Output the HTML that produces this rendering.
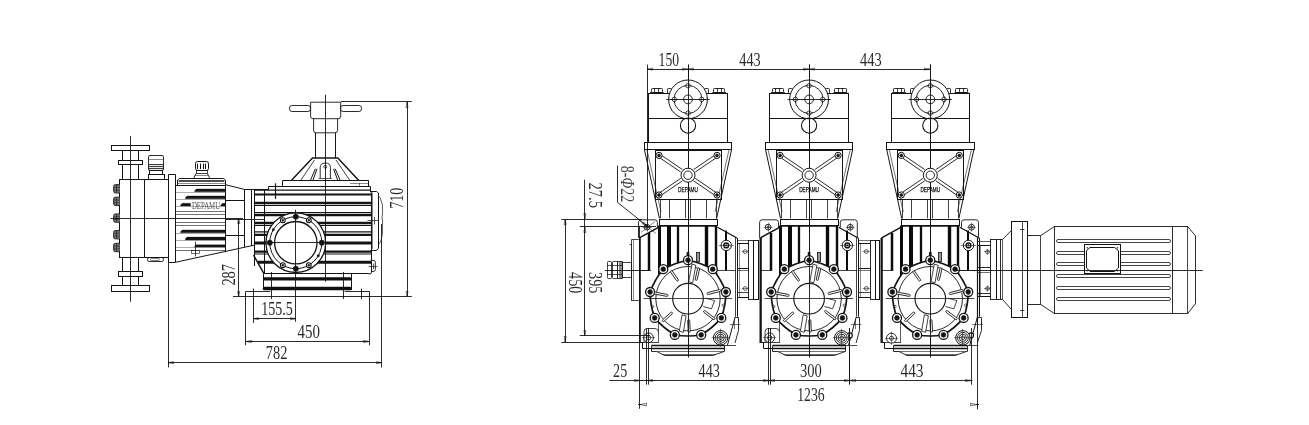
<!DOCTYPE html>
<html><head><meta charset="utf-8"><title>DEPAMU pump dimensions</title>
<style>html,body{margin:0;padding:0;background:#fff}svg{display:block;filter:grayscale(1)}</style></head>
<body><svg width="1309" height="425" viewBox="0 0 1309 425">
<rect x="0" y="0" width="1309" height="425" fill="#fff"/>
<line x1="130.50" y1="135.90" x2="130.50" y2="301.80" stroke="#141414" stroke-width="0.9"/>
<rect x="111.50" y="145.50" width="38.00" height="5.00" rx="0" fill="none" stroke="#141414" stroke-width="1.0"/>
<rect x="118.50" y="160.50" width="24.00" height="4.00" rx="0" fill="none" stroke="#141414" stroke-width="1.0"/>
<line x1="122.50" y1="150.50" x2="122.50" y2="160.10" stroke="#141414" stroke-width="1.0"/>
<line x1="138.50" y1="150.50" x2="138.50" y2="160.10" stroke="#141414" stroke-width="1.0"/>
<line x1="122.50" y1="164.80" x2="122.50" y2="179.40" stroke="#141414" stroke-width="1.0"/>
<line x1="138.50" y1="164.80" x2="138.50" y2="179.40" stroke="#141414" stroke-width="1.0"/>
<rect x="111.50" y="285.50" width="38.00" height="6.00" rx="0" fill="none" stroke="#141414" stroke-width="1.0"/>
<rect x="118.50" y="271.50" width="24.00" height="5.00" rx="0" fill="none" stroke="#141414" stroke-width="1.0"/>
<line x1="122.50" y1="285.90" x2="122.50" y2="276.30" stroke="#141414" stroke-width="1.0"/>
<line x1="138.50" y1="285.90" x2="138.50" y2="276.30" stroke="#141414" stroke-width="1.0"/>
<line x1="122.50" y1="271.60" x2="122.50" y2="257.00" stroke="#141414" stroke-width="1.0"/>
<line x1="138.50" y1="271.60" x2="138.50" y2="257.00" stroke="#141414" stroke-width="1.0"/>
<rect x="119.50" y="179.50" width="49.00" height="78.00" rx="0" fill="none" stroke="#141414" stroke-width="1.0"/>
<line x1="144.50" y1="179.40" x2="144.50" y2="257.00" stroke="#141414" stroke-width="1.0"/>
<path d="M119.4 184.60 L115.4 184.60 Q113.6 184.60 113.6 186.40 L113.6 191.20 Q113.6 193.00 115.4 193.00 L119.4 193.00" fill="#bbb" stroke="#141414" stroke-width="0.9" />
<line x1="115.00" y1="185.00" x2="115.00" y2="192.60" stroke="#141414" stroke-width="0.8"/>
<line x1="116.50" y1="185.00" x2="116.50" y2="192.60" stroke="#141414" stroke-width="0.8"/>
<line x1="118.00" y1="185.00" x2="118.00" y2="192.60" stroke="#141414" stroke-width="0.8"/>
<line x1="114.00" y1="187.40" x2="119.40" y2="187.40" stroke="#141414" stroke-width="0.5"/>
<line x1="114.00" y1="190.20" x2="119.40" y2="190.20" stroke="#141414" stroke-width="0.5"/>
<path d="M119.4 197.20 L115.4 197.20 Q113.6 197.20 113.6 199.00 L113.6 203.80 Q113.6 205.60 115.4 205.60 L119.4 205.60" fill="#bbb" stroke="#141414" stroke-width="0.9" />
<line x1="115.00" y1="197.60" x2="115.00" y2="205.20" stroke="#141414" stroke-width="0.8"/>
<line x1="116.50" y1="197.60" x2="116.50" y2="205.20" stroke="#141414" stroke-width="0.8"/>
<line x1="118.00" y1="197.60" x2="118.00" y2="205.20" stroke="#141414" stroke-width="0.8"/>
<line x1="114.00" y1="200.00" x2="119.40" y2="200.00" stroke="#141414" stroke-width="0.5"/>
<line x1="114.00" y1="202.80" x2="119.40" y2="202.80" stroke="#141414" stroke-width="0.5"/>
<path d="M119.4 213.90 L115.4 213.90 Q113.6 213.90 113.6 215.70 L113.6 220.50 Q113.6 222.30 115.4 222.30 L119.4 222.30" fill="#bbb" stroke="#141414" stroke-width="0.9" />
<line x1="115.00" y1="214.30" x2="115.00" y2="221.90" stroke="#141414" stroke-width="0.8"/>
<line x1="116.50" y1="214.30" x2="116.50" y2="221.90" stroke="#141414" stroke-width="0.8"/>
<line x1="118.00" y1="214.30" x2="118.00" y2="221.90" stroke="#141414" stroke-width="0.8"/>
<line x1="114.00" y1="216.70" x2="119.40" y2="216.70" stroke="#141414" stroke-width="0.5"/>
<line x1="114.00" y1="219.50" x2="119.40" y2="219.50" stroke="#141414" stroke-width="0.5"/>
<path d="M119.4 230.50 L115.4 230.50 Q113.6 230.50 113.6 232.30 L113.6 237.10 Q113.6 238.90 115.4 238.90 L119.4 238.90" fill="#bbb" stroke="#141414" stroke-width="0.9" />
<line x1="115.00" y1="230.90" x2="115.00" y2="238.50" stroke="#141414" stroke-width="0.8"/>
<line x1="116.50" y1="230.90" x2="116.50" y2="238.50" stroke="#141414" stroke-width="0.8"/>
<line x1="118.00" y1="230.90" x2="118.00" y2="238.50" stroke="#141414" stroke-width="0.8"/>
<line x1="114.00" y1="233.30" x2="119.40" y2="233.30" stroke="#141414" stroke-width="0.5"/>
<line x1="114.00" y1="236.10" x2="119.40" y2="236.10" stroke="#141414" stroke-width="0.5"/>
<path d="M119.4 243.30 L115.4 243.30 Q113.6 243.30 113.6 245.10 L113.6 249.90 Q113.6 251.70 115.4 251.70 L119.4 251.70" fill="#bbb" stroke="#141414" stroke-width="0.9" />
<line x1="115.00" y1="243.70" x2="115.00" y2="251.30" stroke="#141414" stroke-width="0.8"/>
<line x1="116.50" y1="243.70" x2="116.50" y2="251.30" stroke="#141414" stroke-width="0.8"/>
<line x1="118.00" y1="243.70" x2="118.00" y2="251.30" stroke="#141414" stroke-width="0.8"/>
<line x1="114.00" y1="246.10" x2="119.40" y2="246.10" stroke="#141414" stroke-width="0.5"/>
<line x1="114.00" y1="248.90" x2="119.40" y2="248.90" stroke="#141414" stroke-width="0.5"/>
<line x1="110.60" y1="218.50" x2="243.00" y2="218.50" stroke="#141414" stroke-width="0.9"/>
<rect x="148.50" y="155.50" width="15.00" height="15.00" rx="1.5" fill="none" stroke="#141414" stroke-width="0.9"/>
<line x1="148.40" y1="159.50" x2="163.80" y2="159.50" stroke="#141414" stroke-width="0.5"/>
<line x1="148.60" y1="164.60" x2="163.60" y2="164.60" stroke="#141414" stroke-width="0.9"/>
<line x1="148.60" y1="166.60" x2="163.60" y2="166.60" stroke="#141414" stroke-width="0.9"/>
<line x1="148.60" y1="168.60" x2="163.60" y2="168.60" stroke="#141414" stroke-width="0.9"/>
<rect x="149.50" y="170.50" width="13.00" height="4.00" rx="0" fill="none" stroke="#141414" stroke-width="1.0"/>
<rect x="148.50" y="174.50" width="16.00" height="5.00" rx="0" fill="none" stroke="#141414" stroke-width="1.0"/>
<rect x="147.50" y="257.50" width="16.00" height="4.00" rx="1.8" fill="none" stroke="#141414" stroke-width="0.9"/>
<rect x="150.50" y="258.50" width="9.00" height="2.00" rx="0.8" fill="none" stroke="#141414" stroke-width="0.5"/>
<path d="M168.50 257.00 L168.50 262.50 L175.50 262.50 L175.50 174.50 L168.50 174.50 L168.50 179.40" fill="none" stroke="#141414" stroke-width="1.0" stroke-linejoin="round"/>
<line x1="168.50" y1="262.20" x2="168.50" y2="367.40" stroke="#141414" stroke-width="0.9"/>
<path d="M175.90 185.50 L177.50 185.50 L177.50 180.20 L179.20 178.50 L223.60 178.50 L225.50 180.20 L225.50 252.30" fill="none" stroke="#141414" stroke-width="1.0" stroke-linejoin="round"/>
<line x1="177.60" y1="185.50" x2="225.20" y2="185.50" stroke="#141414" stroke-width="1.0"/>
<line x1="178.60" y1="181.00" x2="224.40" y2="181.00" stroke="#141414" stroke-width="1.5"/>
<line x1="178.00" y1="183.50" x2="225.00" y2="183.50" stroke="#141414" stroke-width="0.5"/>
<rect x="195.50" y="161.50" width="13.00" height="9.00" rx="2" fill="none" stroke="#141414" stroke-width="1.0"/>
<line x1="197.50" y1="163.60" x2="197.50" y2="169.00" stroke="#141414" stroke-width="1.0"/>
<line x1="200.50" y1="163.60" x2="200.50" y2="169.00" stroke="#141414" stroke-width="1.0"/>
<line x1="203.50" y1="163.60" x2="203.50" y2="169.00" stroke="#141414" stroke-width="1.0"/>
<line x1="205.50" y1="163.60" x2="205.50" y2="169.00" stroke="#141414" stroke-width="1.0"/>
<rect x="196.50" y="170.50" width="11.00" height="3.00" rx="0" fill="none" stroke="#141414" stroke-width="0.8"/>
<path d="M196.00 173.50 L193.60 178.40" fill="none" stroke="#141414" stroke-width="0.9" stroke-linejoin="round"/>
<path d="M207.40 173.50 L209.80 178.40" fill="none" stroke="#141414" stroke-width="0.9" stroke-linejoin="round"/>
<line x1="195.00" y1="175.50" x2="208.40" y2="175.50" stroke="#141414" stroke-width="0.5"/>
<path d="M196.3 188.90 L225.2 188.90 L225.2 191.70 L195.3 191.70 Q193.3 191.70 196.3 188.90 Z" fill="#141414" stroke="#141414" stroke-width="0.3" />
<path d="M187.0 195.90 L225.2 195.90 L225.2 198.70 L186.0 198.70 Q184.0 198.70 187.0 195.90 Z" fill="#141414" stroke="#141414" stroke-width="0.3" />
<path d="M182.2 203.20 L190.5 203.20 L190.5 206.00 L181.2 206.00 Q179.2 206.00 182.2 203.20 Z" fill="#141414" stroke="#141414" stroke-width="0.3" />
<path d="M222.5 203.20 L225.2 203.20 L225.2 206.00 L221.5 206.00 Q219.5 206.00 222.5 203.20 Z" fill="#141414" stroke="#141414" stroke-width="0.3" />
<path d="M196.3 244.70 L225.2 244.70 L225.2 247.10 L195.3 247.10 Q193.3 247.10 196.3 244.70 Z" fill="#141414" stroke="#141414" stroke-width="0.3" />
<path d="M187.0 237.10 L225.2 237.10 L225.2 239.90 L186.0 239.90 Q184.0 239.90 187.0 237.10 Z" fill="#141414" stroke="#141414" stroke-width="0.3" />
<path d="M182.2 229.90 L225.2 229.90 L225.2 232.70 L181.2 232.70 Q179.2 232.70 182.2 229.90 Z" fill="#141414" stroke="#141414" stroke-width="0.3" />
<line x1="175.90" y1="211.50" x2="225.20" y2="211.50" stroke="#141414" stroke-width="0.6"/>
<line x1="175.90" y1="214.50" x2="225.20" y2="214.50" stroke="#141414" stroke-width="0.6"/>
<line x1="175.90" y1="222.50" x2="225.20" y2="222.50" stroke="#141414" stroke-width="0.6"/>
<line x1="175.90" y1="225.50" x2="225.20" y2="225.50" stroke="#141414" stroke-width="0.6"/>
<line x1="175.90" y1="250.50" x2="225.20" y2="250.50" stroke="#141414" stroke-width="0.6"/>
<line x1="176.00" y1="192.50" x2="225.20" y2="192.50" stroke="#141414" stroke-width="0.35"/>
<line x1="176.00" y1="199.50" x2="225.20" y2="199.50" stroke="#141414" stroke-width="0.35"/>
<line x1="176.00" y1="206.50" x2="225.20" y2="206.50" stroke="#141414" stroke-width="0.35"/>
<line x1="176.00" y1="233.50" x2="225.20" y2="233.50" stroke="#141414" stroke-width="0.35"/>
<line x1="176.00" y1="240.50" x2="225.20" y2="240.50" stroke="#141414" stroke-width="0.35"/>
<line x1="176.00" y1="247.50" x2="225.20" y2="247.50" stroke="#141414" stroke-width="0.35"/>
<text x="191.90" y="208.90" font-size="9.9" font-family='"Liberation Serif", serif' fill="#555" text-anchor="start" textLength="28.20" lengthAdjust="spacingAndGlyphs">DEPAMU</text>
<line x1="195.50" y1="241.70" x2="195.50" y2="256.50" stroke="#141414" stroke-width="0.8"/>
<rect x="191.50" y="250.50" width="8.00" height="3.00" rx="0" fill="none" stroke="#141414" stroke-width="0.6"/>
<path d="M225.20 184.60 L244.80 189.50 L254.00 189.50" fill="none" stroke="#141414" stroke-width="1.0" stroke-linejoin="round"/>
<line x1="244.50" y1="189.30" x2="244.50" y2="247.00" stroke="#141414" stroke-width="1.0"/>
<line x1="225.20" y1="200.50" x2="244.80" y2="200.50" stroke="#141414" stroke-width="1.0"/>
<line x1="225.20" y1="235.50" x2="244.80" y2="235.50" stroke="#141414" stroke-width="1.0"/>
<line x1="175.90" y1="262.20" x2="254.00" y2="245.20" stroke="#141414" stroke-width="1.0"/>
<line x1="225.20" y1="219.50" x2="264.00" y2="219.50" stroke="#141414" stroke-width="0.9"/>
<line x1="238.50" y1="218.20" x2="238.50" y2="296.60" stroke="#141414" stroke-width="0.9"/>
<path d="M238.70 218.20 L239.70 223.50 L237.70 223.50 Z" fill="none" stroke="#141414" stroke-width="0.6" stroke-linejoin="round"/>
<path d="M238.70 296.60 L237.70 291.50 L239.70 291.50 Z" fill="none" stroke="#141414" stroke-width="0.6" stroke-linejoin="round"/>
<text x="235.00" y="285.60" font-size="18.5" font-family='"Liberation Serif", serif' fill="#2a2a2a" text-anchor="start" textLength="21.60" lengthAdjust="spacingAndGlyphs" transform="rotate(-90 235.00 285.60)">287</text>
<line x1="251.50" y1="189.30" x2="251.50" y2="246.00" stroke="#141414" stroke-width="1.0"/>
<line x1="254.50" y1="189.30" x2="254.50" y2="266.00" stroke="#141414" stroke-width="1.0"/>
<line x1="254.00" y1="190.20" x2="371.00" y2="190.20" stroke="#141414" stroke-width="1.2"/>
<line x1="254.00" y1="194.50" x2="371.00" y2="194.50" stroke="#141414" stroke-width="2.2"/>
<line x1="254.00" y1="202.90" x2="371.00" y2="202.90" stroke="#141414" stroke-width="2.2"/>
<line x1="254.00" y1="205.30" x2="371.00" y2="205.30" stroke="#141414" stroke-width="1.2"/>
<line x1="254.00" y1="212.60" x2="371.00" y2="212.60" stroke="#141414" stroke-width="1.2"/>
<line x1="254.00" y1="215.20" x2="371.00" y2="215.20" stroke="#141414" stroke-width="2.2"/>
<line x1="254.00" y1="222.90" x2="371.00" y2="222.90" stroke="#141414" stroke-width="2.2"/>
<line x1="254.00" y1="225.30" x2="371.00" y2="225.30" stroke="#141414" stroke-width="1.2"/>
<line x1="254.00" y1="231.80" x2="371.00" y2="231.80" stroke="#141414" stroke-width="1.2"/>
<line x1="254.00" y1="234.80" x2="371.00" y2="234.80" stroke="#141414" stroke-width="2.2"/>
<line x1="254.00" y1="251.60" x2="371.00" y2="251.60" stroke="#141414" stroke-width="2.2"/>
<line x1="254.00" y1="254.00" x2="371.00" y2="254.00" stroke="#141414" stroke-width="1.2"/>
<line x1="254.00" y1="243.00" x2="371.00" y2="243.00" stroke="#141414" stroke-width="3.0"/>
<line x1="258.00" y1="262.20" x2="371.00" y2="262.20" stroke="#141414" stroke-width="3.0"/>
<line x1="264.50" y1="190.30" x2="264.50" y2="273.80" stroke="#141414" stroke-width="1.0"/>
<line x1="275.50" y1="183.30" x2="275.50" y2="198.90" stroke="#141414" stroke-width="1.2"/>
<circle cx="295.80" cy="242.70" r="29.80" fill="#fff" stroke="#141414" stroke-width="1.3"/>
<circle cx="295.80" cy="242.70" r="26.00" fill="none" stroke="#141414" stroke-width="1.0"/>
<circle cx="295.80" cy="242.70" r="21.20" fill="none" stroke="#141414" stroke-width="1.3"/>
<circle cx="321.80" cy="242.70" r="2.60" fill="#141414" stroke="#141414" stroke-width="0.6"/>
<circle cx="295.80" cy="216.70" r="2.60" fill="#141414" stroke="#141414" stroke-width="0.6"/>
<circle cx="269.80" cy="242.70" r="2.60" fill="#141414" stroke="#141414" stroke-width="0.6"/>
<circle cx="295.80" cy="268.70" r="2.60" fill="#141414" stroke="#141414" stroke-width="0.6"/>
<circle cx="308.80" cy="220.18" r="2.40" fill="#fff" stroke="#141414" stroke-width="1.1"/>
<circle cx="308.80" cy="220.18" r="1.00" fill="#141414" stroke="#141414" stroke-width="0.5"/>
<circle cx="282.80" cy="220.18" r="2.40" fill="#fff" stroke="#141414" stroke-width="1.1"/>
<circle cx="282.80" cy="220.18" r="1.00" fill="#141414" stroke="#141414" stroke-width="0.5"/>
<circle cx="282.80" cy="265.22" r="2.40" fill="#fff" stroke="#141414" stroke-width="1.1"/>
<circle cx="282.80" cy="265.22" r="1.00" fill="#141414" stroke="#141414" stroke-width="0.5"/>
<circle cx="308.80" cy="265.22" r="2.40" fill="#fff" stroke="#141414" stroke-width="1.1"/>
<circle cx="308.80" cy="265.22" r="1.00" fill="#141414" stroke="#141414" stroke-width="0.5"/>
<circle cx="273.28" cy="229.70" r="1.20" fill="#141414" stroke="#141414" stroke-width="0.4"/>
<circle cx="318.32" cy="255.70" r="1.20" fill="#141414" stroke="#141414" stroke-width="0.4"/>
<line x1="295.50" y1="209.70" x2="295.50" y2="321.80" stroke="#141414" stroke-width="0.9"/>
<line x1="266.60" y1="242.50" x2="327.00" y2="242.50" stroke="#141414" stroke-width="0.9"/>
<line x1="325.50" y1="94.70" x2="325.50" y2="281.80" stroke="#141414" stroke-width="0.9"/>
<line x1="253.50" y1="255.00" x2="264.10" y2="273.80" stroke="#141414" stroke-width="1.5"/>
<line x1="264.10" y1="273.50" x2="369.50" y2="273.50" stroke="#141414" stroke-width="1.0"/>
<path d="M369.5 274.3 Q371.4 274.3 371.4 272.4" fill="none" stroke="#141414" stroke-width="1.0" />
<line x1="264.5" y1="278.9" x2="350.2" y2="278.9" stroke="#111" stroke-width="3.2" stroke-linecap="round"/>
<line x1="264.5" y1="288.5" x2="350.2" y2="288.5" stroke="#111" stroke-width="3.4" stroke-linecap="round"/>
<line x1="263.50" y1="273.80" x2="263.50" y2="290.00" stroke="#141414" stroke-width="1.0"/>
<line x1="351.50" y1="273.80" x2="351.50" y2="290.00" stroke="#141414" stroke-width="1.0"/>
<line x1="271.50" y1="272.00" x2="271.50" y2="299.00" stroke="#141414" stroke-width="0.9"/>
<line x1="343.50" y1="272.00" x2="343.50" y2="299.00" stroke="#141414" stroke-width="0.9"/>
<line x1="361.50" y1="288.50" x2="361.50" y2="299.00" stroke="#141414" stroke-width="0.9"/>
<path d="M245.50 345.30 L245.50 291.50 L270.00 291.50" fill="none" stroke="#141414" stroke-width="0.9" stroke-linejoin="round"/>
<path d="M344.70 291.50 L369.50 291.50 L369.50 345.30" fill="none" stroke="#141414" stroke-width="0.9" stroke-linejoin="round"/>
<line x1="233.00" y1="296.50" x2="411.80" y2="296.50" stroke="#141414" stroke-width="0.9"/>
<line x1="253.50" y1="288.50" x2="253.50" y2="322.90" stroke="#141414" stroke-width="0.9"/>
<line x1="253.40" y1="318.50" x2="295.80" y2="318.50" stroke="#141414" stroke-width="0.9"/>
<path d="M253.40 318.70 L258.50 317.70 L258.50 319.70 Z" fill="none" stroke="#141414" stroke-width="0.6" stroke-linejoin="round"/>
<path d="M295.80 318.70 L290.50 319.70 L290.50 317.70 Z" fill="none" stroke="#141414" stroke-width="0.6" stroke-linejoin="round"/>
<text x="261.20" y="314.70" font-size="18.5" font-family='"Liberation Serif", serif' fill="#2a2a2a" text-anchor="start" textLength="31.70" lengthAdjust="spacingAndGlyphs">155.5</text>
<line x1="245.60" y1="341.50" x2="369.20" y2="341.50" stroke="#141414" stroke-width="0.9"/>
<path d="M245.60 341.50 L251.50 340.50 L251.50 342.50 Z" fill="none" stroke="#141414" stroke-width="0.6" stroke-linejoin="round"/>
<path d="M369.20 341.50 L363.50 342.50 L363.50 340.50 Z" fill="none" stroke="#141414" stroke-width="0.6" stroke-linejoin="round"/>
<text x="297.60" y="337.50" font-size="18.5" font-family='"Liberation Serif", serif' fill="#2a2a2a" text-anchor="start" textLength="22.40" lengthAdjust="spacingAndGlyphs">450</text>
<line x1="168.20" y1="362.50" x2="381.70" y2="362.50" stroke="#141414" stroke-width="0.9"/>
<path d="M168.20 362.70 L173.50 361.70 L173.50 363.70 Z" fill="none" stroke="#141414" stroke-width="0.6" stroke-linejoin="round"/>
<path d="M381.70 362.70 L376.50 363.70 L376.50 361.70 Z" fill="none" stroke="#141414" stroke-width="0.6" stroke-linejoin="round"/>
<text x="265.80" y="359.30" font-size="18.5" font-family='"Liberation Serif", serif' fill="#2a2a2a" text-anchor="start" textLength="21.50" lengthAdjust="spacingAndGlyphs">782</text>
<line x1="371.50" y1="192.40" x2="371.50" y2="272.60" stroke="#141414" stroke-width="1.0"/>
<path d="M370.60 191.50 L376.50 191.50 L378.50 193.00 L378.50 248.20 L376.50 250.50 L370.60 250.50" fill="none" stroke="#141414" stroke-width="1.0" stroke-linejoin="round"/>
<path d="M378.4 196 Q380.5 197 381.2 201 Q383 204 382.4 208 Q383 213 382.0 217 Q383 222 382.4 227 Q383 232 382.0 236 Q381.6 241 378.4 245" fill="none" stroke="#141414" stroke-width="0.7" />
<line x1="372.50" y1="192.60" x2="372.50" y2="249.00" stroke="#141414" stroke-width="0.5"/>
<line x1="367.50" y1="220.50" x2="378.40" y2="220.50" stroke="#141414" stroke-width="0.7"/>
<line x1="374.50" y1="216.80" x2="374.50" y2="224.40" stroke="#141414" stroke-width="0.7"/>
<path d="M371.4 260.3 L373 260.3 Q375.4 260.3 375.4 262.5 L375.4 269.3 Q375.4 271.5 373 271.5 L371.4 271.5" fill="none" stroke="#141414" stroke-width="0.9" />
<line x1="368.60" y1="266.50" x2="377.40" y2="266.50" stroke="#141414" stroke-width="0.7"/>
<line x1="373.50" y1="263.50" x2="373.50" y2="269.00" stroke="#141414" stroke-width="0.7"/>
<line x1="381.50" y1="224.00" x2="381.50" y2="367.40" stroke="#141414" stroke-width="0.9"/>
<path d="M254.00 189.50 L268.50 189.50 L268.50 186.50 L370.50 186.50 L370.50 192.40" fill="none" stroke="#141414" stroke-width="1.0" stroke-linejoin="round"/>
<path d="M282.50 186.20 L282.50 180.50 L368.50 180.50 L368.50 186.20" fill="none" stroke="#141414" stroke-width="1.0" stroke-linejoin="round"/>
<line x1="350.00" y1="183.50" x2="368.70" y2="183.50" stroke="#141414" stroke-width="0.5"/>
<line x1="359.50" y1="183.20" x2="359.50" y2="186.20" stroke="#141414" stroke-width="0.5"/>
<path d="M291.30 180.60 L312.50 158.00 L337.80 158.00 L358.80 180.60" fill="none" stroke="#141414" stroke-width="1.4" stroke-linejoin="round"/>
<path d="M300.50 180.60 L314.50 160.00" fill="none" stroke="#141414" stroke-width="0.8" stroke-linejoin="round"/>
<path d="M350.00 180.60 L336.00 160.00" fill="none" stroke="#141414" stroke-width="0.8" stroke-linejoin="round"/>
<line x1="310.60" y1="180.00" x2="315.40" y2="168.80" stroke="#141414" stroke-width="1.0"/>
<line x1="340.00" y1="180.00" x2="335.20" y2="168.80" stroke="#141414" stroke-width="1.0"/>
<line x1="313.00" y1="180.00" x2="317.00" y2="168.80" stroke="#141414" stroke-width="1.0"/>
<line x1="337.60" y1="180.00" x2="333.60" y2="168.80" stroke="#141414" stroke-width="1.0"/>
<path d="M320.2 178.2 L320.2 167.5 Q320.2 163 325.3 163 Q330.4 163 330.4 167.5 L330.4 178.2" fill="none" stroke="#141414" stroke-width="0.9" />
<line x1="318.60" y1="178.50" x2="332.00" y2="178.50" stroke="#141414" stroke-width="0.7"/>
<circle cx="325.30" cy="166.80" r="1.50" fill="none" stroke="#141414" stroke-width="0.7"/>
<line x1="315.50" y1="132.80" x2="315.50" y2="158.20" stroke="#141414" stroke-width="1.0"/>
<line x1="335.50" y1="132.80" x2="335.50" y2="158.20" stroke="#141414" stroke-width="1.0"/>
<path d="M313.6 118.7 L313.6 130.3 Q313.6 132.8 316.1 132.8 L334.9 132.8 Q337.6 132.8 337.6 130.3 L337.6 118.7" fill="none" stroke="#141414" stroke-width="0.9" />
<path d="M310.6 102.2 L340.7 102.2 L340.7 116.2 Q340.7 118.7 338.2 118.7 L313.1 118.7 Q310.6 118.7 310.6 116.2 Z" fill="none" stroke="#141414" stroke-width="0.9" />
<rect x="289.50" y="105.50" width="21.00" height="6.00" rx="2.6" fill="none" stroke="#141414" stroke-width="0.9"/>
<rect x="340.50" y="105.50" width="21.00" height="6.00" rx="2.6" fill="none" stroke="#141414" stroke-width="0.9"/>
<line x1="341.00" y1="101.50" x2="411.80" y2="101.50" stroke="#141414" stroke-width="0.9"/>
<line x1="407.50" y1="101.80" x2="407.50" y2="296.60" stroke="#141414" stroke-width="0.9"/>
<path d="M407.00 101.80 L408.00 107.50 L406.00 107.50 Z" fill="none" stroke="#141414" stroke-width="0.6" stroke-linejoin="round"/>
<path d="M407.00 296.60 L406.00 291.50 L408.00 291.50 Z" fill="none" stroke="#141414" stroke-width="0.6" stroke-linejoin="round"/>
<text x="402.60" y="208.80" font-size="18.5" font-family='"Liberation Serif", serif' fill="#2a2a2a" text-anchor="start" textLength="21.20" lengthAdjust="spacingAndGlyphs" transform="rotate(-90 402.60 208.80)">710</text>
<line x1="688.50" y1="64.70" x2="688.50" y2="357.20" stroke="#141414" stroke-width="0.9"/>
<line x1="688.50" y1="64.70" x2="688.50" y2="92.00" stroke="#141414" stroke-width="1.0"/>
<rect x="648.50" y="93.50" width="79.00" height="49.00" rx="0" fill="none" stroke="#141414" stroke-width="1.0"/>
<line x1="648.70" y1="118.50" x2="727.60" y2="118.50" stroke="#141414" stroke-width="1.0"/>
<rect x="651.50" y="88.50" width="11.00" height="4.00" rx="0.8" fill="none" stroke="#141414" stroke-width="0.9"/>
<line x1="654.50" y1="88.00" x2="654.50" y2="92.40" stroke="#141414" stroke-width="0.8"/>
<line x1="658.50" y1="88.00" x2="658.50" y2="92.40" stroke="#141414" stroke-width="0.8"/>
<line x1="649.80" y1="92.50" x2="663.80" y2="92.50" stroke="#141414" stroke-width="0.8"/>
<rect x="667.50" y="88.50" width="4.00" height="5.00" rx="0.8" fill="none" stroke="#141414" stroke-width="0.9"/>
<rect x="713.50" y="88.50" width="11.00" height="4.00" rx="0.8" fill="none" stroke="#141414" stroke-width="0.9"/>
<line x1="717.50" y1="88.00" x2="717.50" y2="92.40" stroke="#141414" stroke-width="0.8"/>
<line x1="721.50" y1="88.00" x2="721.50" y2="92.40" stroke="#141414" stroke-width="0.8"/>
<line x1="712.20" y1="92.50" x2="726.20" y2="92.50" stroke="#141414" stroke-width="0.8"/>
<rect x="704.50" y="88.50" width="4.00" height="5.00" rx="0.8" fill="none" stroke="#141414" stroke-width="0.9"/>
<circle cx="688.00" cy="99.40" r="19.40" fill="#fff" stroke="#141414" stroke-width="1.0"/>
<circle cx="688.00" cy="99.40" r="14.00" fill="none" stroke="#141414" stroke-width="0.9"/>
<circle cx="688.00" cy="99.40" r="4.40" fill="none" stroke="#141414" stroke-width="0.9"/>
<circle cx="688.00" cy="85.70" r="2.20" fill="#fff" stroke="#141414" stroke-width="0.8"/>
<line x1="684.60" y1="85.50" x2="691.40" y2="85.50" stroke="#141414" stroke-width="0.5"/>
<line x1="688.50" y1="82.30" x2="688.50" y2="89.10" stroke="#141414" stroke-width="0.5"/>
<circle cx="688.00" cy="113.10" r="2.20" fill="#fff" stroke="#141414" stroke-width="0.8"/>
<line x1="684.60" y1="113.50" x2="691.40" y2="113.50" stroke="#141414" stroke-width="0.5"/>
<line x1="688.50" y1="109.70" x2="688.50" y2="116.50" stroke="#141414" stroke-width="0.5"/>
<circle cx="674.30" cy="99.40" r="2.20" fill="#fff" stroke="#141414" stroke-width="0.8"/>
<line x1="670.90" y1="99.50" x2="677.70" y2="99.50" stroke="#141414" stroke-width="0.5"/>
<line x1="674.50" y1="96.00" x2="674.50" y2="102.80" stroke="#141414" stroke-width="0.5"/>
<circle cx="701.70" cy="99.40" r="2.20" fill="#fff" stroke="#141414" stroke-width="0.8"/>
<line x1="698.30" y1="99.50" x2="705.10" y2="99.50" stroke="#141414" stroke-width="0.5"/>
<line x1="701.50" y1="96.00" x2="701.50" y2="102.80" stroke="#141414" stroke-width="0.5"/>
<line x1="666.40" y1="99.50" x2="709.60" y2="99.50" stroke="#141414" stroke-width="0.9"/>
<circle cx="688.00" cy="125.60" r="7.60" fill="none" stroke="#141414" stroke-width="1.1"/>
<line x1="688.50" y1="64.70" x2="688.50" y2="357.20" stroke="#141414" stroke-width="0.9"/>
<rect x="644.50" y="142.50" width="87.00" height="7.00" rx="0" fill="none" stroke="#141414" stroke-width="1.0"/>
<line x1="644.50" y1="149.90" x2="659.40" y2="218.40" stroke="#141414" stroke-width="1.0"/>
<line x1="647.00" y1="149.90" x2="661.00" y2="212.00" stroke="#141414" stroke-width="0.6"/>
<line x1="731.50" y1="149.90" x2="716.60" y2="218.40" stroke="#141414" stroke-width="1.0"/>
<line x1="729.00" y1="149.90" x2="715.00" y2="212.00" stroke="#141414" stroke-width="0.6"/>
<rect x="655.50" y="150.50" width="66.00" height="49.00" rx="0" fill="none" stroke="#141414" stroke-width="1.0"/>
<line x1="659.85" y1="154.16" x2="682.47" y2="169.61" stroke="#141414" stroke-width="0.9"/>
<line x1="658.15" y1="156.64" x2="680.77" y2="172.08" stroke="#141414" stroke-width="0.9"/>
<line x1="658.15" y1="193.76" x2="680.77" y2="178.32" stroke="#141414" stroke-width="0.9"/>
<line x1="659.85" y1="196.24" x2="682.47" y2="180.79" stroke="#141414" stroke-width="0.9"/>
<line x1="717.85" y1="156.64" x2="695.23" y2="172.08" stroke="#141414" stroke-width="0.9"/>
<line x1="716.15" y1="154.16" x2="693.53" y2="169.61" stroke="#141414" stroke-width="0.9"/>
<line x1="716.15" y1="196.24" x2="693.53" y2="180.79" stroke="#141414" stroke-width="0.9"/>
<line x1="717.85" y1="193.76" x2="695.23" y2="178.32" stroke="#141414" stroke-width="0.9"/>
<circle cx="659.00" cy="155.40" r="3.10" fill="#fff" stroke="#141414" stroke-width="1.0"/>
<circle cx="659.00" cy="155.40" r="1.50" fill="#141414" stroke="#141414" stroke-width="0.6"/>
<circle cx="659.00" cy="195.00" r="3.10" fill="#fff" stroke="#141414" stroke-width="1.0"/>
<circle cx="659.00" cy="195.00" r="1.50" fill="#141414" stroke="#141414" stroke-width="0.6"/>
<circle cx="717.00" cy="155.40" r="3.10" fill="#fff" stroke="#141414" stroke-width="1.0"/>
<circle cx="717.00" cy="155.40" r="1.50" fill="#141414" stroke="#141414" stroke-width="0.6"/>
<circle cx="717.00" cy="195.00" r="3.10" fill="#fff" stroke="#141414" stroke-width="1.0"/>
<circle cx="717.00" cy="195.00" r="1.50" fill="#141414" stroke="#141414" stroke-width="0.6"/>
<circle cx="688.00" cy="175.20" r="7.00" fill="#fff" stroke="#141414" stroke-width="1.0"/>
<circle cx="688.00" cy="175.20" r="4.20" fill="none" stroke="#141414" stroke-width="0.9"/>
<text x="678.10" y="191.80" font-size="8.0" font-family='"Liberation Sans", sans-serif' fill="#000" text-anchor="start" stroke="#000" stroke-width="0.25" textLength="19.80" lengthAdjust="spacingAndGlyphs">DEPAMU</text>
<line x1="660.50" y1="199.20" x2="660.50" y2="218.40" stroke="#141414" stroke-width="0.8"/>
<line x1="669.50" y1="199.20" x2="669.50" y2="218.40" stroke="#141414" stroke-width="0.8"/>
<line x1="685.50" y1="199.20" x2="685.50" y2="218.40" stroke="#141414" stroke-width="0.8"/>
<line x1="690.50" y1="199.20" x2="690.50" y2="218.40" stroke="#141414" stroke-width="0.8"/>
<line x1="706.50" y1="199.20" x2="706.50" y2="218.40" stroke="#141414" stroke-width="0.8"/>
<line x1="716.50" y1="199.20" x2="716.50" y2="218.40" stroke="#141414" stroke-width="0.8"/>
<rect x="659.50" y="219.50" width="58.00" height="6.00" rx="0" fill="none" stroke="#141414" stroke-width="1.0"/>
<line x1="659.10" y1="226.00" x2="717.00" y2="226.00" stroke="#141414" stroke-width="1.6"/>
<rect x="648" y="233.00" width="2" height="37.50" fill="#0c0c0c"/>
<rect x="647.5" y="233.00" width="3" height="37.50" fill="#0c0c0c" opacity="0.50"/>
<rect x="658" y="225.60" width="3" height="50.40" fill="#0c0c0c"/>
<rect x="667" y="225.60" width="4" height="50.40" fill="#0c0c0c"/>
<rect x="677" y="225.60" width="2" height="50.40" fill="#0c0c0c"/>
<rect x="676.5" y="225.60" width="3" height="50.40" fill="#0c0c0c" opacity="0.30"/>
<rect x="705" y="225.60" width="3" height="50.40" fill="#0c0c0c"/>
<rect x="704.5" y="225.60" width="4" height="50.40" fill="#0c0c0c" opacity="0.40"/>
<rect x="715" y="225.60" width="2" height="50.40" fill="#0c0c0c"/>
<rect x="714.5" y="225.60" width="3" height="50.40" fill="#0c0c0c" opacity="0.40"/>
<rect x="725" y="230.50" width="2" height="40.00" fill="#0c0c0c"/>
<line x1="688.00" y1="252.00" x2="688.00" y2="257.00" stroke="#141414" stroke-width="2.6"/>
<line x1="717.50" y1="227.30" x2="736.90" y2="238.00" stroke="#141414" stroke-width="1.3"/>
<line x1="735.50" y1="237.20" x2="735.50" y2="316.70" stroke="#141414" stroke-width="0.8"/>
<line x1="737.50" y1="238.00" x2="737.50" y2="316.70" stroke="#141414" stroke-width="1.0"/>
<line x1="716.00" y1="270.50" x2="736.00" y2="270.50" stroke="#141414" stroke-width="0.8"/>
<circle cx="726.20" cy="245.40" r="5.20" fill="#fff" stroke="#141414" stroke-width="1.0"/>
<circle cx="726.20" cy="245.40" r="2.40" fill="none" stroke="#141414" stroke-width="1.4"/>
<circle cx="726.20" cy="245.40" r="0.80" fill="#141414" stroke="#141414" stroke-width="0.4"/>
<line x1="718.70" y1="245.50" x2="733.70" y2="245.50" stroke="#141414" stroke-width="0.5"/>
<path d="M734.80 317.50 L738.50 317.50 L738.50 330.40 L735.00 343.00" fill="none" stroke="#141414" stroke-width="0.9" stroke-linejoin="round"/>
<line x1="735.00" y1="317.40" x2="727.40" y2="345.40" stroke="#141414" stroke-width="1.0"/>
<line x1="730.00" y1="324.50" x2="740.50" y2="324.50" stroke="#141414" stroke-width="0.6"/>
<line x1="734.50" y1="319.50" x2="734.50" y2="329.00" stroke="#141414" stroke-width="0.6"/>
<line x1="639.30" y1="270.50" x2="651.00" y2="270.50" stroke="#141414" stroke-width="0.8"/>
<line x1="658.50" y1="227.30" x2="639.30" y2="237.80" stroke="#141414" stroke-width="1.5"/>
<path d="M639.50 237.80 L639.50 342.50 L642.50 342.50 L642.50 348.50 L651.50 348.50" fill="none" stroke="#141414" stroke-width="1.0" stroke-linejoin="round"/>
<line x1="640.00" y1="237.80" x2="640.00" y2="342.80" stroke="#141414" stroke-width="1.6"/>
<line x1="642.00" y1="342.50" x2="658.60" y2="342.50" stroke="#141414" stroke-width="0.8"/>
<line x1="658.50" y1="318.00" x2="658.50" y2="342.80" stroke="#141414" stroke-width="0.7"/>
<line x1="651.50" y1="345.50" x2="724.80" y2="345.50" stroke="#141414" stroke-width="1.3"/>
<line x1="651.50" y1="348.50" x2="724.80" y2="348.50" stroke="#141414" stroke-width="1.3"/>
<path d="M651.50 345.40 L651.50 351.50 L656.80 351.50 L664.70 355.50 L712.90 355.50 L724.00 351.50 L724.50 351.50 L724.50 345.40" fill="none" stroke="#141414" stroke-width="0.9" stroke-linejoin="round"/>
<line x1="656.80" y1="351.50" x2="724.00" y2="351.50" stroke="#141414" stroke-width="0.6"/>
<line x1="662.40" y1="354.50" x2="715.60" y2="354.50" stroke="#141414" stroke-width="0.6"/>
<line x1="724.80" y1="345.50" x2="736.00" y2="345.50" stroke="#141414" stroke-width="0.8"/>
<path d="M638.50 238 L638.50 222.4 Q638.50 219.8 641.00 219.8 L655.00 219.8 Q657.40 219.8 657.40 222.4 L657.40 228" fill="none" stroke="#141414" stroke-width="0.9" />
<circle cx="647.00" cy="227.20" r="2.90" fill="#fff" stroke="#141414" stroke-width="0.9"/>
<circle cx="647.00" cy="227.20" r="1.20" fill="none" stroke="#141414" stroke-width="0.8"/>
<line x1="642.60" y1="227.50" x2="651.40" y2="227.50" stroke="#141414" stroke-width="0.5"/>
<line x1="647.50" y1="222.80" x2="647.50" y2="231.60" stroke="#141414" stroke-width="0.5"/>
<path d="M644.00 342.8 L644.00 331.5 Q644.00 328.5 647.00 328.5 L655.00 328.5 Q658.40 328.5 658.40 332" fill="none" stroke="#141414" stroke-width="0.8" />
<circle cx="648.60" cy="337.80" r="4.80" fill="#fff" stroke="#141414" stroke-width="0.9"/>
<circle cx="648.60" cy="337.80" r="2.20" fill="none" stroke="#141414" stroke-width="0.8"/>
<line x1="642.00" y1="337.50" x2="655.00" y2="337.50" stroke="#141414" stroke-width="0.5"/>
<circle cx="720.60" cy="337.80" r="7.20" fill="#fff" stroke="#141414" stroke-width="1.0"/>
<circle cx="720.60" cy="337.80" r="5.40" fill="none" stroke="#141414" stroke-width="0.9"/>
<circle cx="720.60" cy="337.80" r="3.60" fill="none" stroke="#141414" stroke-width="0.9"/>
<circle cx="720.60" cy="337.80" r="1.80" fill="none" stroke="#141414" stroke-width="0.8"/>
<line x1="711.60" y1="337.50" x2="729.60" y2="337.50" stroke="#141414" stroke-width="0.5"/>
<line x1="720.50" y1="328.80" x2="720.50" y2="346.80" stroke="#141414" stroke-width="0.5"/>
<path d="M688.00 260.30 A72 72 0 0 1 712.68 269.28 A72 72 0 0 1 725.82 292.03 A72 72 0 0 1 721.26 317.90 A72 72 0 0 1 701.13 334.78 A72 72 0 0 1 674.87 334.78 A72 72 0 0 1 654.74 317.90 A72 72 0 0 1 650.18 292.03 A72 72 0 0 1 663.32 269.28 A72 72 0 0 1 688.00 260.30 Z" fill="#fff" stroke="#141414" stroke-width="1.7" />
<rect x="696.50" y="252.50" width="3.00" height="9.00" rx="0" fill="#999" stroke="#222" stroke-width="0.9"/>
<circle cx="688.00" cy="298.70" r="32.20" fill="none" stroke="#141414" stroke-width="0.9"/>
<circle cx="688.00" cy="298.70" r="15.30" fill="none" stroke="#141414" stroke-width="1.1"/>
<circle cx="688.00" cy="260.20" r="4.50" fill="#fff" stroke="#141414" stroke-width="1.3"/>
<circle cx="688.00" cy="260.20" r="2.40" fill="#141414" stroke="#141414" stroke-width="0.6"/>
<circle cx="712.75" cy="269.21" r="4.50" fill="#fff" stroke="#141414" stroke-width="1.3"/>
<circle cx="712.75" cy="269.21" r="2.40" fill="#141414" stroke="#141414" stroke-width="0.6"/>
<circle cx="725.92" cy="292.01" r="4.50" fill="#fff" stroke="#141414" stroke-width="1.3"/>
<circle cx="725.92" cy="292.01" r="2.40" fill="#141414" stroke="#141414" stroke-width="0.6"/>
<circle cx="721.34" cy="317.95" r="4.50" fill="#fff" stroke="#141414" stroke-width="1.3"/>
<circle cx="721.34" cy="317.95" r="2.40" fill="#141414" stroke="#141414" stroke-width="0.6"/>
<circle cx="701.17" cy="334.88" r="4.50" fill="#fff" stroke="#141414" stroke-width="1.3"/>
<circle cx="701.17" cy="334.88" r="2.40" fill="#141414" stroke="#141414" stroke-width="0.6"/>
<circle cx="674.83" cy="334.88" r="4.50" fill="#fff" stroke="#141414" stroke-width="1.3"/>
<circle cx="674.83" cy="334.88" r="2.40" fill="#141414" stroke="#141414" stroke-width="0.6"/>
<circle cx="654.66" cy="317.95" r="4.50" fill="#fff" stroke="#141414" stroke-width="1.3"/>
<circle cx="654.66" cy="317.95" r="2.40" fill="#141414" stroke="#141414" stroke-width="0.6"/>
<circle cx="650.08" cy="292.01" r="4.50" fill="#fff" stroke="#141414" stroke-width="1.3"/>
<circle cx="650.08" cy="292.01" r="2.40" fill="#141414" stroke="#141414" stroke-width="0.6"/>
<circle cx="663.25" cy="269.21" r="4.50" fill="#fff" stroke="#141414" stroke-width="1.3"/>
<circle cx="663.25" cy="269.21" r="2.40" fill="#141414" stroke="#141414" stroke-width="0.6"/>
<line x1="643.50" y1="298.50" x2="732.00" y2="298.50" stroke="#141414" stroke-width="0.8"/>
<path d="M670.68 272.27 L676.58 280.67 A1.0 1.0 0 0 0 678.22 279.53 L672.32 271.13 A1.0 1.0 0 0 0 670.68 272.27 Z" fill="#fff" stroke="#141414" stroke-width="0.9" />
<path d="M697.62 268.58 L695.22 279.18 A1.0 1.0 0 0 0 697.18 279.62 L699.58 269.02 A1.0 1.0 0 0 0 697.62 268.58 Z" fill="#fff" stroke="#141414" stroke-width="0.9" />
<path d="M654.81 294.08 L666.81 296.38 A1.0 1.0 0 0 0 667.19 294.42 L655.19 292.12 A1.0 1.0 0 0 0 654.81 294.08 Z" fill="#fff" stroke="#141414" stroke-width="0.9" />
<path d="M708.25 294.47 L720.05 291.47 A1.0 1.0 0 0 0 719.55 289.53 L707.75 292.53 A1.0 1.0 0 0 0 708.25 294.47 Z" fill="#fff" stroke="#141414" stroke-width="0.9" />
<path d="M663.97 321.34 L672.17 313.84 A1.0 1.0 0 0 0 670.83 312.36 L662.63 319.86 A1.0 1.0 0 0 0 663.97 321.34 Z" fill="#fff" stroke="#141414" stroke-width="0.9" />
<path d="M703.90 312.40 L713.30 319.50 A1.0 1.0 0 0 0 714.50 317.90 L705.10 310.80 A1.0 1.0 0 0 0 703.90 312.40 Z" fill="#fff" stroke="#141414" stroke-width="0.9" />
<path d="M687.70 320.65 L688.20 331.25 A1.0 1.0 0 0 0 690.20 331.15 L689.70 320.55 A1.0 1.0 0 0 0 687.70 320.65 Z" fill="#fff" stroke="#141414" stroke-width="0.9" />
<path d="M692.00 264.10 L695.80 265.30 L692.70 282.90 L688.70 281.70 Z" fill="#fff" stroke="#141414" stroke-width="0.8" stroke-linejoin="round"/>
<path d="M682.10 314.70 L686.10 315.90 L683.30 332.30 L679.30 331.20 Z" fill="#fff" stroke="#141414" stroke-width="0.8" stroke-linejoin="round"/>
<path d="M705.60 298.20 L714.60 300.60 L711.50 308.80 L703.30 306.50" fill="none" stroke="#141414" stroke-width="0.8" stroke-linejoin="round"/>
<circle cx="652.70" cy="306.50" r="1.20" fill="none" stroke="#141414" stroke-width="0.6"/>
<circle cx="723.30" cy="305.30" r="1.20" fill="none" stroke="#141414" stroke-width="0.6"/>
<line x1="688.50" y1="252.00" x2="688.50" y2="357.20" stroke="#141414" stroke-width="0.9"/>
<line x1="809.50" y1="64.70" x2="809.50" y2="357.20" stroke="#141414" stroke-width="0.9"/>
<line x1="809.50" y1="64.70" x2="809.50" y2="92.00" stroke="#141414" stroke-width="1.0"/>
<rect x="769.50" y="93.50" width="79.00" height="49.00" rx="0" fill="none" stroke="#141414" stroke-width="1.0"/>
<line x1="769.80" y1="118.50" x2="848.70" y2="118.50" stroke="#141414" stroke-width="1.0"/>
<rect x="772.50" y="88.50" width="11.00" height="4.00" rx="0.8" fill="none" stroke="#141414" stroke-width="0.9"/>
<line x1="775.50" y1="88.00" x2="775.50" y2="92.40" stroke="#141414" stroke-width="0.8"/>
<line x1="779.50" y1="88.00" x2="779.50" y2="92.40" stroke="#141414" stroke-width="0.8"/>
<line x1="770.90" y1="92.50" x2="784.90" y2="92.50" stroke="#141414" stroke-width="0.8"/>
<rect x="788.50" y="88.50" width="4.00" height="5.00" rx="0.8" fill="none" stroke="#141414" stroke-width="0.9"/>
<rect x="834.50" y="88.50" width="12.00" height="4.00" rx="0.8" fill="none" stroke="#141414" stroke-width="0.9"/>
<line x1="838.50" y1="88.00" x2="838.50" y2="92.40" stroke="#141414" stroke-width="0.8"/>
<line x1="842.50" y1="88.00" x2="842.50" y2="92.40" stroke="#141414" stroke-width="0.8"/>
<line x1="833.30" y1="92.50" x2="847.30" y2="92.50" stroke="#141414" stroke-width="0.8"/>
<rect x="825.50" y="88.50" width="4.00" height="5.00" rx="0.8" fill="none" stroke="#141414" stroke-width="0.9"/>
<circle cx="809.10" cy="99.40" r="19.40" fill="#fff" stroke="#141414" stroke-width="1.0"/>
<circle cx="809.10" cy="99.40" r="14.00" fill="none" stroke="#141414" stroke-width="0.9"/>
<circle cx="809.10" cy="99.40" r="4.40" fill="none" stroke="#141414" stroke-width="0.9"/>
<circle cx="809.10" cy="85.70" r="2.20" fill="#fff" stroke="#141414" stroke-width="0.8"/>
<line x1="805.70" y1="85.50" x2="812.50" y2="85.50" stroke="#141414" stroke-width="0.5"/>
<line x1="809.50" y1="82.30" x2="809.50" y2="89.10" stroke="#141414" stroke-width="0.5"/>
<circle cx="809.10" cy="113.10" r="2.20" fill="#fff" stroke="#141414" stroke-width="0.8"/>
<line x1="805.70" y1="113.50" x2="812.50" y2="113.50" stroke="#141414" stroke-width="0.5"/>
<line x1="809.50" y1="109.70" x2="809.50" y2="116.50" stroke="#141414" stroke-width="0.5"/>
<circle cx="795.40" cy="99.40" r="2.20" fill="#fff" stroke="#141414" stroke-width="0.8"/>
<line x1="792.00" y1="99.50" x2="798.80" y2="99.50" stroke="#141414" stroke-width="0.5"/>
<line x1="795.50" y1="96.00" x2="795.50" y2="102.80" stroke="#141414" stroke-width="0.5"/>
<circle cx="822.80" cy="99.40" r="2.20" fill="#fff" stroke="#141414" stroke-width="0.8"/>
<line x1="819.40" y1="99.50" x2="826.20" y2="99.50" stroke="#141414" stroke-width="0.5"/>
<line x1="822.50" y1="96.00" x2="822.50" y2="102.80" stroke="#141414" stroke-width="0.5"/>
<line x1="787.50" y1="99.50" x2="830.70" y2="99.50" stroke="#141414" stroke-width="0.9"/>
<circle cx="809.10" cy="125.60" r="7.60" fill="none" stroke="#141414" stroke-width="1.1"/>
<line x1="809.50" y1="64.70" x2="809.50" y2="357.20" stroke="#141414" stroke-width="0.9"/>
<rect x="765.50" y="142.50" width="87.00" height="7.00" rx="0" fill="none" stroke="#141414" stroke-width="1.0"/>
<line x1="765.60" y1="149.90" x2="780.50" y2="218.40" stroke="#141414" stroke-width="1.0"/>
<line x1="768.10" y1="149.90" x2="782.10" y2="212.00" stroke="#141414" stroke-width="0.6"/>
<line x1="852.60" y1="149.90" x2="837.70" y2="218.40" stroke="#141414" stroke-width="1.0"/>
<line x1="850.10" y1="149.90" x2="836.10" y2="212.00" stroke="#141414" stroke-width="0.6"/>
<rect x="776.50" y="150.50" width="66.00" height="49.00" rx="0" fill="none" stroke="#141414" stroke-width="1.0"/>
<line x1="780.95" y1="154.16" x2="803.57" y2="169.61" stroke="#141414" stroke-width="0.9"/>
<line x1="779.25" y1="156.64" x2="801.87" y2="172.08" stroke="#141414" stroke-width="0.9"/>
<line x1="779.25" y1="193.76" x2="801.87" y2="178.32" stroke="#141414" stroke-width="0.9"/>
<line x1="780.95" y1="196.24" x2="803.57" y2="180.79" stroke="#141414" stroke-width="0.9"/>
<line x1="838.95" y1="156.64" x2="816.33" y2="172.08" stroke="#141414" stroke-width="0.9"/>
<line x1="837.25" y1="154.16" x2="814.63" y2="169.61" stroke="#141414" stroke-width="0.9"/>
<line x1="837.25" y1="196.24" x2="814.63" y2="180.79" stroke="#141414" stroke-width="0.9"/>
<line x1="838.95" y1="193.76" x2="816.33" y2="178.32" stroke="#141414" stroke-width="0.9"/>
<circle cx="780.10" cy="155.40" r="3.10" fill="#fff" stroke="#141414" stroke-width="1.0"/>
<circle cx="780.10" cy="155.40" r="1.50" fill="#141414" stroke="#141414" stroke-width="0.6"/>
<circle cx="780.10" cy="195.00" r="3.10" fill="#fff" stroke="#141414" stroke-width="1.0"/>
<circle cx="780.10" cy="195.00" r="1.50" fill="#141414" stroke="#141414" stroke-width="0.6"/>
<circle cx="838.10" cy="155.40" r="3.10" fill="#fff" stroke="#141414" stroke-width="1.0"/>
<circle cx="838.10" cy="155.40" r="1.50" fill="#141414" stroke="#141414" stroke-width="0.6"/>
<circle cx="838.10" cy="195.00" r="3.10" fill="#fff" stroke="#141414" stroke-width="1.0"/>
<circle cx="838.10" cy="195.00" r="1.50" fill="#141414" stroke="#141414" stroke-width="0.6"/>
<circle cx="809.10" cy="175.20" r="7.00" fill="#fff" stroke="#141414" stroke-width="1.0"/>
<circle cx="809.10" cy="175.20" r="4.20" fill="none" stroke="#141414" stroke-width="0.9"/>
<text x="799.20" y="191.80" font-size="8.0" font-family='"Liberation Sans", sans-serif' fill="#000" text-anchor="start" stroke="#000" stroke-width="0.25" textLength="19.80" lengthAdjust="spacingAndGlyphs">DEPAMU</text>
<line x1="781.50" y1="199.20" x2="781.50" y2="218.40" stroke="#141414" stroke-width="0.8"/>
<line x1="790.50" y1="199.20" x2="790.50" y2="218.40" stroke="#141414" stroke-width="0.8"/>
<line x1="806.50" y1="199.20" x2="806.50" y2="218.40" stroke="#141414" stroke-width="0.8"/>
<line x1="811.50" y1="199.20" x2="811.50" y2="218.40" stroke="#141414" stroke-width="0.8"/>
<line x1="827.50" y1="199.20" x2="827.50" y2="218.40" stroke="#141414" stroke-width="0.8"/>
<line x1="837.50" y1="199.20" x2="837.50" y2="218.40" stroke="#141414" stroke-width="0.8"/>
<rect x="780.50" y="219.50" width="58.00" height="6.00" rx="0" fill="none" stroke="#141414" stroke-width="1.0"/>
<line x1="780.20" y1="226.00" x2="838.10" y2="226.00" stroke="#141414" stroke-width="1.6"/>
<rect x="770" y="233.00" width="2" height="37.50" fill="#0c0c0c"/>
<rect x="769.5" y="233.00" width="3" height="37.50" fill="#0c0c0c" opacity="0.50"/>
<rect x="779" y="225.60" width="3" height="50.40" fill="#0c0c0c"/>
<rect x="788" y="225.60" width="4" height="50.40" fill="#0c0c0c"/>
<rect x="798" y="225.60" width="2" height="50.40" fill="#0c0c0c"/>
<rect x="797.5" y="225.60" width="3" height="50.40" fill="#0c0c0c" opacity="0.30"/>
<rect x="826" y="225.60" width="3" height="50.40" fill="#0c0c0c"/>
<rect x="825.5" y="225.60" width="4" height="50.40" fill="#0c0c0c" opacity="0.40"/>
<rect x="836" y="225.60" width="2" height="50.40" fill="#0c0c0c"/>
<rect x="835.5" y="225.60" width="3" height="50.40" fill="#0c0c0c" opacity="0.40"/>
<rect x="846" y="230.50" width="2" height="40.00" fill="#0c0c0c"/>
<line x1="809.10" y1="252.00" x2="809.10" y2="257.00" stroke="#141414" stroke-width="2.6"/>
<line x1="838.60" y1="227.30" x2="858.00" y2="238.00" stroke="#141414" stroke-width="1.3"/>
<line x1="856.50" y1="237.20" x2="856.50" y2="316.70" stroke="#141414" stroke-width="0.8"/>
<line x1="858.50" y1="238.00" x2="858.50" y2="316.70" stroke="#141414" stroke-width="1.0"/>
<line x1="837.10" y1="270.50" x2="857.10" y2="270.50" stroke="#141414" stroke-width="0.8"/>
<circle cx="847.30" cy="245.40" r="5.20" fill="#fff" stroke="#141414" stroke-width="1.0"/>
<circle cx="847.30" cy="245.40" r="2.40" fill="none" stroke="#141414" stroke-width="1.4"/>
<circle cx="847.30" cy="245.40" r="0.80" fill="#141414" stroke="#141414" stroke-width="0.4"/>
<line x1="839.80" y1="245.50" x2="854.80" y2="245.50" stroke="#141414" stroke-width="0.5"/>
<path d="M855.90 317.50 L859.50 317.50 L859.50 330.40 L856.10 343.00" fill="none" stroke="#141414" stroke-width="0.9" stroke-linejoin="round"/>
<line x1="856.10" y1="317.40" x2="848.50" y2="345.40" stroke="#141414" stroke-width="1.0"/>
<line x1="851.10" y1="324.50" x2="861.60" y2="324.50" stroke="#141414" stroke-width="0.6"/>
<line x1="855.50" y1="319.50" x2="855.50" y2="329.00" stroke="#141414" stroke-width="0.6"/>
<line x1="760.40" y1="270.50" x2="772.10" y2="270.50" stroke="#141414" stroke-width="0.8"/>
<line x1="779.60" y1="227.30" x2="760.40" y2="237.80" stroke="#141414" stroke-width="1.5"/>
<path d="M760.50 237.80 L760.50 342.50 L763.50 342.50 L763.50 348.50 L772.60 348.50" fill="none" stroke="#141414" stroke-width="1.0" stroke-linejoin="round"/>
<line x1="761.00" y1="237.80" x2="761.00" y2="342.80" stroke="#141414" stroke-width="1.6"/>
<line x1="763.10" y1="342.50" x2="779.70" y2="342.50" stroke="#141414" stroke-width="0.8"/>
<line x1="779.50" y1="318.00" x2="779.50" y2="342.80" stroke="#141414" stroke-width="0.7"/>
<line x1="772.60" y1="345.50" x2="845.90" y2="345.50" stroke="#141414" stroke-width="1.3"/>
<line x1="772.60" y1="348.50" x2="845.90" y2="348.50" stroke="#141414" stroke-width="1.3"/>
<path d="M772.50 345.40 L772.50 351.50 L777.90 351.50 L785.80 355.50 L834.00 355.50 L845.10 351.50 L845.50 351.50 L845.50 345.40" fill="none" stroke="#141414" stroke-width="0.9" stroke-linejoin="round"/>
<line x1="777.90" y1="351.50" x2="845.10" y2="351.50" stroke="#141414" stroke-width="0.6"/>
<line x1="783.50" y1="354.50" x2="836.70" y2="354.50" stroke="#141414" stroke-width="0.6"/>
<line x1="845.90" y1="345.50" x2="857.10" y2="345.50" stroke="#141414" stroke-width="0.8"/>
<path d="M759.60 238 L759.60 222.4 Q759.60 219.8 762.10 219.8 L776.10 219.8 Q778.50 219.8 778.50 222.4 L778.50 228" fill="none" stroke="#141414" stroke-width="0.9" />
<circle cx="768.10" cy="227.20" r="2.90" fill="#fff" stroke="#141414" stroke-width="0.9"/>
<circle cx="768.10" cy="227.20" r="1.20" fill="none" stroke="#141414" stroke-width="0.8"/>
<line x1="763.70" y1="227.50" x2="772.50" y2="227.50" stroke="#141414" stroke-width="0.5"/>
<line x1="768.50" y1="222.80" x2="768.50" y2="231.60" stroke="#141414" stroke-width="0.5"/>
<path d="M765.10 342.8 L765.10 331.5 Q765.10 328.5 768.10 328.5 L776.10 328.5 Q779.50 328.5 779.50 332" fill="none" stroke="#141414" stroke-width="0.8" />
<circle cx="769.70" cy="337.80" r="4.80" fill="#fff" stroke="#141414" stroke-width="0.9"/>
<circle cx="769.70" cy="337.80" r="2.20" fill="none" stroke="#141414" stroke-width="0.8"/>
<line x1="763.10" y1="337.50" x2="776.10" y2="337.50" stroke="#141414" stroke-width="0.5"/>
<path d="M857.30 238 L857.30 222.4 Q857.30 219.8 854.80 219.8 L842.80 219.8 Q840.30 219.8 840.30 222.4 L840.30 227.5" fill="none" stroke="#141414" stroke-width="0.9" />
<circle cx="850.30" cy="227.20" r="2.90" fill="#fff" stroke="#141414" stroke-width="0.9"/>
<circle cx="850.30" cy="227.20" r="1.20" fill="none" stroke="#141414" stroke-width="0.8"/>
<line x1="845.90" y1="227.50" x2="854.70" y2="227.50" stroke="#141414" stroke-width="0.5"/>
<line x1="850.50" y1="222.80" x2="850.50" y2="231.60" stroke="#141414" stroke-width="0.5"/>
<circle cx="849.80" cy="335.40" r="2.50" fill="#fff" stroke="#141414" stroke-width="1.2"/>
<circle cx="841.70" cy="337.80" r="7.20" fill="#fff" stroke="#141414" stroke-width="1.0"/>
<circle cx="841.70" cy="337.80" r="5.40" fill="none" stroke="#141414" stroke-width="0.9"/>
<circle cx="841.70" cy="337.80" r="3.60" fill="none" stroke="#141414" stroke-width="0.9"/>
<circle cx="841.70" cy="337.80" r="1.80" fill="none" stroke="#141414" stroke-width="0.8"/>
<line x1="832.70" y1="337.50" x2="850.70" y2="337.50" stroke="#141414" stroke-width="0.5"/>
<line x1="841.50" y1="328.80" x2="841.50" y2="346.80" stroke="#141414" stroke-width="0.5"/>
<path d="M809.10 260.30 A72 72 0 0 1 833.78 269.28 A72 72 0 0 1 846.92 292.03 A72 72 0 0 1 842.36 317.90 A72 72 0 0 1 822.23 334.78 A72 72 0 0 1 795.97 334.78 A72 72 0 0 1 775.84 317.90 A72 72 0 0 1 771.28 292.03 A72 72 0 0 1 784.42 269.28 A72 72 0 0 1 809.10 260.30 Z" fill="#fff" stroke="#141414" stroke-width="1.7" />
<rect x="817.50" y="252.50" width="3.00" height="9.00" rx="0" fill="#999" stroke="#222" stroke-width="0.9"/>
<circle cx="809.10" cy="298.70" r="32.20" fill="none" stroke="#141414" stroke-width="0.9"/>
<circle cx="809.10" cy="298.70" r="15.30" fill="none" stroke="#141414" stroke-width="1.1"/>
<circle cx="809.10" cy="260.20" r="4.50" fill="#fff" stroke="#141414" stroke-width="1.3"/>
<circle cx="809.10" cy="260.20" r="2.40" fill="#141414" stroke="#141414" stroke-width="0.6"/>
<circle cx="833.85" cy="269.21" r="4.50" fill="#fff" stroke="#141414" stroke-width="1.3"/>
<circle cx="833.85" cy="269.21" r="2.40" fill="#141414" stroke="#141414" stroke-width="0.6"/>
<circle cx="847.02" cy="292.01" r="4.50" fill="#fff" stroke="#141414" stroke-width="1.3"/>
<circle cx="847.02" cy="292.01" r="2.40" fill="#141414" stroke="#141414" stroke-width="0.6"/>
<circle cx="842.44" cy="317.95" r="4.50" fill="#fff" stroke="#141414" stroke-width="1.3"/>
<circle cx="842.44" cy="317.95" r="2.40" fill="#141414" stroke="#141414" stroke-width="0.6"/>
<circle cx="822.27" cy="334.88" r="4.50" fill="#fff" stroke="#141414" stroke-width="1.3"/>
<circle cx="822.27" cy="334.88" r="2.40" fill="#141414" stroke="#141414" stroke-width="0.6"/>
<circle cx="795.93" cy="334.88" r="4.50" fill="#fff" stroke="#141414" stroke-width="1.3"/>
<circle cx="795.93" cy="334.88" r="2.40" fill="#141414" stroke="#141414" stroke-width="0.6"/>
<circle cx="775.76" cy="317.95" r="4.50" fill="#fff" stroke="#141414" stroke-width="1.3"/>
<circle cx="775.76" cy="317.95" r="2.40" fill="#141414" stroke="#141414" stroke-width="0.6"/>
<circle cx="771.18" cy="292.01" r="4.50" fill="#fff" stroke="#141414" stroke-width="1.3"/>
<circle cx="771.18" cy="292.01" r="2.40" fill="#141414" stroke="#141414" stroke-width="0.6"/>
<circle cx="784.35" cy="269.21" r="4.50" fill="#fff" stroke="#141414" stroke-width="1.3"/>
<circle cx="784.35" cy="269.21" r="2.40" fill="#141414" stroke="#141414" stroke-width="0.6"/>
<line x1="764.60" y1="298.50" x2="853.10" y2="298.50" stroke="#141414" stroke-width="0.8"/>
<path d="M791.78 272.27 L797.68 280.67 A1.0 1.0 0 0 0 799.32 279.53 L793.42 271.13 A1.0 1.0 0 0 0 791.78 272.27 Z" fill="#fff" stroke="#141414" stroke-width="0.9" />
<path d="M818.72 268.58 L816.32 279.18 A1.0 1.0 0 0 0 818.28 279.62 L820.68 269.02 A1.0 1.0 0 0 0 818.72 268.58 Z" fill="#fff" stroke="#141414" stroke-width="0.9" />
<path d="M775.91 294.08 L787.91 296.38 A1.0 1.0 0 0 0 788.29 294.42 L776.29 292.12 A1.0 1.0 0 0 0 775.91 294.08 Z" fill="#fff" stroke="#141414" stroke-width="0.9" />
<path d="M829.35 294.47 L841.15 291.47 A1.0 1.0 0 0 0 840.65 289.53 L828.85 292.53 A1.0 1.0 0 0 0 829.35 294.47 Z" fill="#fff" stroke="#141414" stroke-width="0.9" />
<path d="M785.07 321.34 L793.27 313.84 A1.0 1.0 0 0 0 791.93 312.36 L783.73 319.86 A1.0 1.0 0 0 0 785.07 321.34 Z" fill="#fff" stroke="#141414" stroke-width="0.9" />
<path d="M825.00 312.40 L834.40 319.50 A1.0 1.0 0 0 0 835.60 317.90 L826.20 310.80 A1.0 1.0 0 0 0 825.00 312.40 Z" fill="#fff" stroke="#141414" stroke-width="0.9" />
<path d="M808.80 320.65 L809.30 331.25 A1.0 1.0 0 0 0 811.30 331.15 L810.80 320.55 A1.0 1.0 0 0 0 808.80 320.65 Z" fill="#fff" stroke="#141414" stroke-width="0.9" />
<path d="M813.10 264.10 L816.90 265.30 L813.80 282.90 L809.80 281.70 Z" fill="#fff" stroke="#141414" stroke-width="0.8" stroke-linejoin="round"/>
<path d="M803.20 314.70 L807.20 315.90 L804.40 332.30 L800.40 331.20 Z" fill="#fff" stroke="#141414" stroke-width="0.8" stroke-linejoin="round"/>
<path d="M826.70 298.20 L835.70 300.60 L832.60 308.80 L824.40 306.50" fill="none" stroke="#141414" stroke-width="0.8" stroke-linejoin="round"/>
<circle cx="773.80" cy="306.50" r="1.20" fill="none" stroke="#141414" stroke-width="0.6"/>
<circle cx="844.40" cy="305.30" r="1.20" fill="none" stroke="#141414" stroke-width="0.6"/>
<line x1="809.50" y1="252.00" x2="809.50" y2="357.20" stroke="#141414" stroke-width="0.9"/>
<line x1="930.50" y1="64.70" x2="930.50" y2="357.20" stroke="#141414" stroke-width="0.9"/>
<line x1="930.50" y1="64.70" x2="930.50" y2="92.00" stroke="#141414" stroke-width="1.0"/>
<rect x="891.50" y="93.50" width="78.00" height="49.00" rx="0" fill="none" stroke="#141414" stroke-width="1.0"/>
<line x1="891.00" y1="118.50" x2="969.90" y2="118.50" stroke="#141414" stroke-width="1.0"/>
<rect x="893.50" y="88.50" width="11.00" height="4.00" rx="0.8" fill="none" stroke="#141414" stroke-width="0.9"/>
<line x1="897.50" y1="88.00" x2="897.50" y2="92.40" stroke="#141414" stroke-width="0.8"/>
<line x1="901.50" y1="88.00" x2="901.50" y2="92.40" stroke="#141414" stroke-width="0.8"/>
<line x1="892.10" y1="92.50" x2="906.10" y2="92.50" stroke="#141414" stroke-width="0.8"/>
<rect x="910.50" y="88.50" width="4.00" height="5.00" rx="0.8" fill="none" stroke="#141414" stroke-width="0.9"/>
<rect x="955.50" y="88.50" width="12.00" height="4.00" rx="0.8" fill="none" stroke="#141414" stroke-width="0.9"/>
<line x1="959.50" y1="88.00" x2="959.50" y2="92.40" stroke="#141414" stroke-width="0.8"/>
<line x1="963.50" y1="88.00" x2="963.50" y2="92.40" stroke="#141414" stroke-width="0.8"/>
<line x1="954.50" y1="92.50" x2="968.50" y2="92.50" stroke="#141414" stroke-width="0.8"/>
<rect x="946.50" y="88.50" width="4.00" height="5.00" rx="0.8" fill="none" stroke="#141414" stroke-width="0.9"/>
<circle cx="930.30" cy="99.40" r="19.40" fill="#fff" stroke="#141414" stroke-width="1.0"/>
<circle cx="930.30" cy="99.40" r="14.00" fill="none" stroke="#141414" stroke-width="0.9"/>
<circle cx="930.30" cy="99.40" r="4.40" fill="none" stroke="#141414" stroke-width="0.9"/>
<circle cx="930.30" cy="85.70" r="2.20" fill="#fff" stroke="#141414" stroke-width="0.8"/>
<line x1="926.90" y1="85.50" x2="933.70" y2="85.50" stroke="#141414" stroke-width="0.5"/>
<line x1="930.50" y1="82.30" x2="930.50" y2="89.10" stroke="#141414" stroke-width="0.5"/>
<circle cx="930.30" cy="113.10" r="2.20" fill="#fff" stroke="#141414" stroke-width="0.8"/>
<line x1="926.90" y1="113.50" x2="933.70" y2="113.50" stroke="#141414" stroke-width="0.5"/>
<line x1="930.50" y1="109.70" x2="930.50" y2="116.50" stroke="#141414" stroke-width="0.5"/>
<circle cx="916.60" cy="99.40" r="2.20" fill="#fff" stroke="#141414" stroke-width="0.8"/>
<line x1="913.20" y1="99.50" x2="920.00" y2="99.50" stroke="#141414" stroke-width="0.5"/>
<line x1="916.50" y1="96.00" x2="916.50" y2="102.80" stroke="#141414" stroke-width="0.5"/>
<circle cx="944.00" cy="99.40" r="2.20" fill="#fff" stroke="#141414" stroke-width="0.8"/>
<line x1="940.60" y1="99.50" x2="947.40" y2="99.50" stroke="#141414" stroke-width="0.5"/>
<line x1="944.50" y1="96.00" x2="944.50" y2="102.80" stroke="#141414" stroke-width="0.5"/>
<line x1="908.70" y1="99.50" x2="951.90" y2="99.50" stroke="#141414" stroke-width="0.9"/>
<circle cx="930.30" cy="125.60" r="7.60" fill="none" stroke="#141414" stroke-width="1.1"/>
<line x1="930.50" y1="64.70" x2="930.50" y2="357.20" stroke="#141414" stroke-width="0.9"/>
<rect x="886.50" y="142.50" width="88.00" height="7.00" rx="0" fill="none" stroke="#141414" stroke-width="1.0"/>
<line x1="886.80" y1="149.90" x2="901.70" y2="218.40" stroke="#141414" stroke-width="1.0"/>
<line x1="889.30" y1="149.90" x2="903.30" y2="212.00" stroke="#141414" stroke-width="0.6"/>
<line x1="973.80" y1="149.90" x2="958.90" y2="218.40" stroke="#141414" stroke-width="1.0"/>
<line x1="971.30" y1="149.90" x2="957.30" y2="212.00" stroke="#141414" stroke-width="0.6"/>
<rect x="897.50" y="150.50" width="66.00" height="49.00" rx="0" fill="none" stroke="#141414" stroke-width="1.0"/>
<line x1="902.15" y1="154.16" x2="924.77" y2="169.61" stroke="#141414" stroke-width="0.9"/>
<line x1="900.45" y1="156.64" x2="923.07" y2="172.08" stroke="#141414" stroke-width="0.9"/>
<line x1="900.45" y1="193.76" x2="923.07" y2="178.32" stroke="#141414" stroke-width="0.9"/>
<line x1="902.15" y1="196.24" x2="924.77" y2="180.79" stroke="#141414" stroke-width="0.9"/>
<line x1="960.15" y1="156.64" x2="937.53" y2="172.08" stroke="#141414" stroke-width="0.9"/>
<line x1="958.45" y1="154.16" x2="935.83" y2="169.61" stroke="#141414" stroke-width="0.9"/>
<line x1="958.45" y1="196.24" x2="935.83" y2="180.79" stroke="#141414" stroke-width="0.9"/>
<line x1="960.15" y1="193.76" x2="937.53" y2="178.32" stroke="#141414" stroke-width="0.9"/>
<circle cx="901.30" cy="155.40" r="3.10" fill="#fff" stroke="#141414" stroke-width="1.0"/>
<circle cx="901.30" cy="155.40" r="1.50" fill="#141414" stroke="#141414" stroke-width="0.6"/>
<circle cx="901.30" cy="195.00" r="3.10" fill="#fff" stroke="#141414" stroke-width="1.0"/>
<circle cx="901.30" cy="195.00" r="1.50" fill="#141414" stroke="#141414" stroke-width="0.6"/>
<circle cx="959.30" cy="155.40" r="3.10" fill="#fff" stroke="#141414" stroke-width="1.0"/>
<circle cx="959.30" cy="155.40" r="1.50" fill="#141414" stroke="#141414" stroke-width="0.6"/>
<circle cx="959.30" cy="195.00" r="3.10" fill="#fff" stroke="#141414" stroke-width="1.0"/>
<circle cx="959.30" cy="195.00" r="1.50" fill="#141414" stroke="#141414" stroke-width="0.6"/>
<circle cx="930.30" cy="175.20" r="7.00" fill="#fff" stroke="#141414" stroke-width="1.0"/>
<circle cx="930.30" cy="175.20" r="4.20" fill="none" stroke="#141414" stroke-width="0.9"/>
<text x="920.40" y="191.80" font-size="8.0" font-family='"Liberation Sans", sans-serif' fill="#000" text-anchor="start" stroke="#000" stroke-width="0.25" textLength="19.80" lengthAdjust="spacingAndGlyphs">DEPAMU</text>
<line x1="902.50" y1="199.20" x2="902.50" y2="218.40" stroke="#141414" stroke-width="0.8"/>
<line x1="911.50" y1="199.20" x2="911.50" y2="218.40" stroke="#141414" stroke-width="0.8"/>
<line x1="927.50" y1="199.20" x2="927.50" y2="218.40" stroke="#141414" stroke-width="0.8"/>
<line x1="932.50" y1="199.20" x2="932.50" y2="218.40" stroke="#141414" stroke-width="0.8"/>
<line x1="948.50" y1="199.20" x2="948.50" y2="218.40" stroke="#141414" stroke-width="0.8"/>
<line x1="958.50" y1="199.20" x2="958.50" y2="218.40" stroke="#141414" stroke-width="0.8"/>
<rect x="901.50" y="219.50" width="58.00" height="6.00" rx="0" fill="none" stroke="#141414" stroke-width="1.0"/>
<line x1="901.40" y1="226.00" x2="959.30" y2="226.00" stroke="#141414" stroke-width="1.6"/>
<rect x="891" y="233.00" width="2" height="37.50" fill="#0c0c0c"/>
<rect x="890.5" y="233.00" width="3" height="37.50" fill="#0c0c0c" opacity="0.50"/>
<rect x="900" y="225.60" width="3" height="50.40" fill="#0c0c0c"/>
<rect x="909" y="225.60" width="4" height="50.40" fill="#0c0c0c"/>
<rect x="920" y="225.60" width="2" height="50.40" fill="#0c0c0c"/>
<rect x="919.5" y="225.60" width="3" height="50.40" fill="#0c0c0c" opacity="0.30"/>
<rect x="948" y="225.60" width="3" height="50.40" fill="#0c0c0c"/>
<rect x="947.5" y="225.60" width="4" height="50.40" fill="#0c0c0c" opacity="0.40"/>
<rect x="957" y="225.60" width="2" height="50.40" fill="#0c0c0c"/>
<rect x="956.5" y="225.60" width="3" height="50.40" fill="#0c0c0c" opacity="0.40"/>
<rect x="967" y="230.50" width="2" height="40.00" fill="#0c0c0c"/>
<line x1="930.30" y1="252.00" x2="930.30" y2="257.00" stroke="#141414" stroke-width="2.6"/>
<line x1="959.80" y1="227.30" x2="979.20" y2="238.00" stroke="#141414" stroke-width="1.3"/>
<line x1="977.50" y1="237.20" x2="977.50" y2="316.70" stroke="#141414" stroke-width="0.8"/>
<line x1="979.50" y1="238.00" x2="979.50" y2="316.70" stroke="#141414" stroke-width="1.0"/>
<line x1="958.30" y1="270.50" x2="978.30" y2="270.50" stroke="#141414" stroke-width="0.8"/>
<circle cx="968.50" cy="245.40" r="5.20" fill="#fff" stroke="#141414" stroke-width="1.0"/>
<circle cx="968.50" cy="245.40" r="2.40" fill="none" stroke="#141414" stroke-width="1.4"/>
<circle cx="968.50" cy="245.40" r="0.80" fill="#141414" stroke="#141414" stroke-width="0.4"/>
<line x1="961.00" y1="245.50" x2="976.00" y2="245.50" stroke="#141414" stroke-width="0.5"/>
<path d="M977.10 317.50 L981.50 317.50 L981.50 330.40 L977.30 343.00" fill="none" stroke="#141414" stroke-width="0.9" stroke-linejoin="round"/>
<line x1="977.30" y1="317.40" x2="969.70" y2="345.40" stroke="#141414" stroke-width="1.0"/>
<line x1="972.30" y1="324.50" x2="982.80" y2="324.50" stroke="#141414" stroke-width="0.6"/>
<line x1="977.50" y1="319.50" x2="977.50" y2="329.00" stroke="#141414" stroke-width="0.6"/>
<line x1="881.60" y1="270.50" x2="893.30" y2="270.50" stroke="#141414" stroke-width="0.8"/>
<line x1="900.80" y1="227.30" x2="881.60" y2="237.80" stroke="#141414" stroke-width="1.5"/>
<path d="M881.50 237.80 L881.50 342.50 L884.50 342.50 L884.50 348.50 L893.80 348.50" fill="none" stroke="#141414" stroke-width="1.0" stroke-linejoin="round"/>
<line x1="882.00" y1="237.80" x2="882.00" y2="342.80" stroke="#141414" stroke-width="1.6"/>
<line x1="884.30" y1="342.50" x2="900.90" y2="342.50" stroke="#141414" stroke-width="0.8"/>
<line x1="900.50" y1="318.00" x2="900.50" y2="342.80" stroke="#141414" stroke-width="0.7"/>
<line x1="893.80" y1="345.50" x2="967.10" y2="345.50" stroke="#141414" stroke-width="1.3"/>
<line x1="893.80" y1="348.50" x2="967.10" y2="348.50" stroke="#141414" stroke-width="1.3"/>
<path d="M893.50 345.40 L893.50 351.50 L899.10 351.50 L907.00 355.50 L955.20 355.50 L966.30 351.50 L967.50 351.50 L967.50 345.40" fill="none" stroke="#141414" stroke-width="0.9" stroke-linejoin="round"/>
<line x1="899.10" y1="351.50" x2="966.30" y2="351.50" stroke="#141414" stroke-width="0.6"/>
<line x1="904.70" y1="354.50" x2="957.90" y2="354.50" stroke="#141414" stroke-width="0.6"/>
<line x1="967.10" y1="345.50" x2="978.30" y2="345.50" stroke="#141414" stroke-width="0.8"/>
<path d="M978.50 238 L978.50 222.4 Q978.50 219.8 976.00 219.8 L964.00 219.8 Q961.50 219.8 961.50 222.4 L961.50 227.5" fill="none" stroke="#141414" stroke-width="0.9" />
<circle cx="971.50" cy="227.20" r="2.90" fill="#fff" stroke="#141414" stroke-width="0.9"/>
<circle cx="971.50" cy="227.20" r="1.20" fill="none" stroke="#141414" stroke-width="0.8"/>
<line x1="967.10" y1="227.50" x2="975.90" y2="227.50" stroke="#141414" stroke-width="0.5"/>
<line x1="971.50" y1="222.80" x2="971.50" y2="231.60" stroke="#141414" stroke-width="0.5"/>
<circle cx="971.00" cy="335.40" r="2.50" fill="#fff" stroke="#141414" stroke-width="1.2"/>
<circle cx="891.50" cy="338.20" r="5.00" fill="#fff" stroke="#141414" stroke-width="0.9"/>
<circle cx="891.50" cy="338.20" r="2.00" fill="none" stroke="#141414" stroke-width="0.8"/>
<line x1="885.00" y1="338.50" x2="898.00" y2="338.50" stroke="#141414" stroke-width="0.5"/>
<line x1="891.50" y1="331.70" x2="891.50" y2="344.70" stroke="#141414" stroke-width="0.5"/>
<circle cx="962.90" cy="337.80" r="7.20" fill="#fff" stroke="#141414" stroke-width="1.0"/>
<circle cx="962.90" cy="337.80" r="5.40" fill="none" stroke="#141414" stroke-width="0.9"/>
<circle cx="962.90" cy="337.80" r="3.60" fill="none" stroke="#141414" stroke-width="0.9"/>
<circle cx="962.90" cy="337.80" r="1.80" fill="none" stroke="#141414" stroke-width="0.8"/>
<line x1="953.90" y1="337.50" x2="971.90" y2="337.50" stroke="#141414" stroke-width="0.5"/>
<line x1="962.50" y1="328.80" x2="962.50" y2="346.80" stroke="#141414" stroke-width="0.5"/>
<path d="M930.30 260.30 A72 72 0 0 1 954.98 269.28 A72 72 0 0 1 968.12 292.03 A72 72 0 0 1 963.56 317.90 A72 72 0 0 1 943.43 334.78 A72 72 0 0 1 917.17 334.78 A72 72 0 0 1 897.04 317.90 A72 72 0 0 1 892.48 292.03 A72 72 0 0 1 905.62 269.28 A72 72 0 0 1 930.30 260.30 Z" fill="#fff" stroke="#141414" stroke-width="1.7" />
<rect x="938.50" y="252.50" width="3.00" height="9.00" rx="0" fill="#999" stroke="#222" stroke-width="0.9"/>
<circle cx="930.30" cy="298.70" r="32.20" fill="none" stroke="#141414" stroke-width="0.9"/>
<circle cx="930.30" cy="298.70" r="15.30" fill="none" stroke="#141414" stroke-width="1.1"/>
<circle cx="930.30" cy="260.20" r="4.50" fill="#fff" stroke="#141414" stroke-width="1.3"/>
<circle cx="930.30" cy="260.20" r="2.40" fill="#141414" stroke="#141414" stroke-width="0.6"/>
<circle cx="955.05" cy="269.21" r="4.50" fill="#fff" stroke="#141414" stroke-width="1.3"/>
<circle cx="955.05" cy="269.21" r="2.40" fill="#141414" stroke="#141414" stroke-width="0.6"/>
<circle cx="968.22" cy="292.01" r="4.50" fill="#fff" stroke="#141414" stroke-width="1.3"/>
<circle cx="968.22" cy="292.01" r="2.40" fill="#141414" stroke="#141414" stroke-width="0.6"/>
<circle cx="963.64" cy="317.95" r="4.50" fill="#fff" stroke="#141414" stroke-width="1.3"/>
<circle cx="963.64" cy="317.95" r="2.40" fill="#141414" stroke="#141414" stroke-width="0.6"/>
<circle cx="943.47" cy="334.88" r="4.50" fill="#fff" stroke="#141414" stroke-width="1.3"/>
<circle cx="943.47" cy="334.88" r="2.40" fill="#141414" stroke="#141414" stroke-width="0.6"/>
<circle cx="917.13" cy="334.88" r="4.50" fill="#fff" stroke="#141414" stroke-width="1.3"/>
<circle cx="917.13" cy="334.88" r="2.40" fill="#141414" stroke="#141414" stroke-width="0.6"/>
<circle cx="896.96" cy="317.95" r="4.50" fill="#fff" stroke="#141414" stroke-width="1.3"/>
<circle cx="896.96" cy="317.95" r="2.40" fill="#141414" stroke="#141414" stroke-width="0.6"/>
<circle cx="892.38" cy="292.01" r="4.50" fill="#fff" stroke="#141414" stroke-width="1.3"/>
<circle cx="892.38" cy="292.01" r="2.40" fill="#141414" stroke="#141414" stroke-width="0.6"/>
<circle cx="905.55" cy="269.21" r="4.50" fill="#fff" stroke="#141414" stroke-width="1.3"/>
<circle cx="905.55" cy="269.21" r="2.40" fill="#141414" stroke="#141414" stroke-width="0.6"/>
<line x1="885.80" y1="298.50" x2="974.30" y2="298.50" stroke="#141414" stroke-width="0.8"/>
<path d="M912.98 272.27 L918.88 280.67 A1.0 1.0 0 0 0 920.52 279.53 L914.62 271.13 A1.0 1.0 0 0 0 912.98 272.27 Z" fill="#fff" stroke="#141414" stroke-width="0.9" />
<path d="M939.92 268.58 L937.52 279.18 A1.0 1.0 0 0 0 939.48 279.62 L941.88 269.02 A1.0 1.0 0 0 0 939.92 268.58 Z" fill="#fff" stroke="#141414" stroke-width="0.9" />
<path d="M897.11 294.08 L909.11 296.38 A1.0 1.0 0 0 0 909.49 294.42 L897.49 292.12 A1.0 1.0 0 0 0 897.11 294.08 Z" fill="#fff" stroke="#141414" stroke-width="0.9" />
<path d="M950.55 294.47 L962.35 291.47 A1.0 1.0 0 0 0 961.85 289.53 L950.05 292.53 A1.0 1.0 0 0 0 950.55 294.47 Z" fill="#fff" stroke="#141414" stroke-width="0.9" />
<path d="M906.27 321.34 L914.47 313.84 A1.0 1.0 0 0 0 913.13 312.36 L904.93 319.86 A1.0 1.0 0 0 0 906.27 321.34 Z" fill="#fff" stroke="#141414" stroke-width="0.9" />
<path d="M946.20 312.40 L955.60 319.50 A1.0 1.0 0 0 0 956.80 317.90 L947.40 310.80 A1.0 1.0 0 0 0 946.20 312.40 Z" fill="#fff" stroke="#141414" stroke-width="0.9" />
<path d="M930.00 320.65 L930.50 331.25 A1.0 1.0 0 0 0 932.50 331.15 L932.00 320.55 A1.0 1.0 0 0 0 930.00 320.65 Z" fill="#fff" stroke="#141414" stroke-width="0.9" />
<path d="M934.30 264.10 L938.10 265.30 L935.00 282.90 L931.00 281.70 Z" fill="#fff" stroke="#141414" stroke-width="0.8" stroke-linejoin="round"/>
<path d="M924.40 314.70 L928.40 315.90 L925.60 332.30 L921.60 331.20 Z" fill="#fff" stroke="#141414" stroke-width="0.8" stroke-linejoin="round"/>
<path d="M947.90 298.20 L956.90 300.60 L953.80 308.80 L945.60 306.50" fill="none" stroke="#141414" stroke-width="0.8" stroke-linejoin="round"/>
<circle cx="895.00" cy="306.50" r="1.20" fill="none" stroke="#141414" stroke-width="0.6"/>
<circle cx="965.60" cy="305.30" r="1.20" fill="none" stroke="#141414" stroke-width="0.6"/>
<line x1="930.50" y1="252.00" x2="930.50" y2="357.20" stroke="#141414" stroke-width="0.9"/>
<path d="M638.80 239.50 L631.50 239.50 L631.50 244.50 L629.60 244.50" fill="none" stroke="#141414" stroke-width="0.8" stroke-linejoin="round"/>
<line x1="631.50" y1="244.00" x2="631.50" y2="300.50" stroke="#141414" stroke-width="0.9"/>
<line x1="631.30" y1="300.50" x2="638.80" y2="300.50" stroke="#141414" stroke-width="0.8"/>
<line x1="633.50" y1="239.80" x2="633.50" y2="300.50" stroke="#141414" stroke-width="0.5"/>
<rect x="607.50" y="261.50" width="4.00" height="17.00" rx="0.8" fill="none" stroke="#141414" stroke-width="0.8"/>
<rect x="612.50" y="261.50" width="5.00" height="17.00" rx="0.8" fill="none" stroke="#141414" stroke-width="0.8"/>
<rect x="617.50" y="261.50" width="5.00" height="17.00" rx="0" fill="none" stroke="#141414" stroke-width="0.8"/>
<rect x="622.50" y="262.50" width="9.00" height="15.00" rx="0" fill="none" stroke="#141414" stroke-width="0.8"/>
<line x1="607.00" y1="265.50" x2="622.60" y2="265.50" stroke="#141414" stroke-width="0.7"/>
<line x1="607.00" y1="274.50" x2="622.60" y2="274.50" stroke="#141414" stroke-width="0.7"/>
<line x1="619.50" y1="261.40" x2="619.50" y2="278.60" stroke="#141414" stroke-width="0.5"/>
<line x1="620.50" y1="261.40" x2="620.50" y2="278.60" stroke="#141414" stroke-width="0.5"/>
<line x1="621.50" y1="261.40" x2="621.50" y2="278.60" stroke="#141414" stroke-width="0.5"/>
<line x1="605.00" y1="270.50" x2="649.40" y2="270.50" stroke="#141414" stroke-width="0.9"/>
<line x1="737.60" y1="240.50" x2="748.90" y2="240.50" stroke="#141414" stroke-width="0.6"/>
<line x1="737.60" y1="243.50" x2="748.90" y2="243.50" stroke="#141414" stroke-width="1.0"/>
<line x1="737.60" y1="268.50" x2="748.90" y2="268.50" stroke="#141414" stroke-width="1.0"/>
<line x1="737.60" y1="270.50" x2="748.90" y2="270.50" stroke="#141414" stroke-width="0.6"/>
<line x1="737.60" y1="292.50" x2="748.90" y2="292.50" stroke="#141414" stroke-width="0.8"/>
<line x1="737.60" y1="297.50" x2="748.90" y2="297.50" stroke="#141414" stroke-width="1.0"/>
<line x1="739.50" y1="243.80" x2="739.50" y2="297.00" stroke="#141414" stroke-width="0.5"/>
<circle cx="745.20" cy="251.50" r="1.90" fill="none" stroke="#141414" stroke-width="0.7"/>
<line x1="741.60" y1="251.50" x2="748.60" y2="251.50" stroke="#141414" stroke-width="0.5"/>
<circle cx="745.20" cy="288.50" r="1.90" fill="none" stroke="#141414" stroke-width="0.7"/>
<line x1="741.60" y1="288.50" x2="748.60" y2="288.50" stroke="#141414" stroke-width="0.5"/>
<rect x="748.50" y="240.50" width="5.00" height="59.00" rx="0" fill="none" stroke="#141414" stroke-width="0.9"/>
<rect x="753.50" y="240.50" width="5.00" height="59.00" rx="0" fill="none" stroke="#141414" stroke-width="1.0"/>
<line x1="759.50" y1="238.00" x2="759.50" y2="343.00" stroke="#141414" stroke-width="0.5"/>
<line x1="858.70" y1="240.50" x2="870.00" y2="240.50" stroke="#141414" stroke-width="0.6"/>
<line x1="858.70" y1="243.50" x2="870.00" y2="243.50" stroke="#141414" stroke-width="1.0"/>
<line x1="858.70" y1="268.50" x2="870.00" y2="268.50" stroke="#141414" stroke-width="1.0"/>
<line x1="858.70" y1="270.50" x2="870.00" y2="270.50" stroke="#141414" stroke-width="0.6"/>
<line x1="858.70" y1="292.50" x2="870.00" y2="292.50" stroke="#141414" stroke-width="0.8"/>
<line x1="858.70" y1="297.50" x2="870.00" y2="297.50" stroke="#141414" stroke-width="1.0"/>
<line x1="860.50" y1="243.80" x2="860.50" y2="297.00" stroke="#141414" stroke-width="0.5"/>
<circle cx="866.30" cy="251.50" r="1.90" fill="none" stroke="#141414" stroke-width="0.7"/>
<line x1="862.70" y1="251.50" x2="869.70" y2="251.50" stroke="#141414" stroke-width="0.5"/>
<circle cx="866.30" cy="288.50" r="1.90" fill="none" stroke="#141414" stroke-width="0.7"/>
<line x1="862.70" y1="288.50" x2="869.70" y2="288.50" stroke="#141414" stroke-width="0.5"/>
<rect x="870.50" y="240.50" width="5.00" height="59.00" rx="0" fill="none" stroke="#141414" stroke-width="0.9"/>
<rect x="875.50" y="240.50" width="4.00" height="59.00" rx="0" fill="none" stroke="#141414" stroke-width="1.0"/>
<line x1="880.50" y1="238.00" x2="880.50" y2="343.00" stroke="#141414" stroke-width="0.5"/>
<line x1="978.00" y1="241.50" x2="990.30" y2="241.50" stroke="#141414" stroke-width="0.7"/>
<line x1="978.00" y1="245.50" x2="990.30" y2="245.50" stroke="#141414" stroke-width="1.0"/>
<line x1="978.00" y1="267.50" x2="990.30" y2="267.50" stroke="#141414" stroke-width="0.9"/>
<line x1="978.00" y1="272.50" x2="990.30" y2="272.50" stroke="#141414" stroke-width="0.6"/>
<line x1="978.00" y1="293.50" x2="990.30" y2="293.50" stroke="#141414" stroke-width="0.9"/>
<line x1="978.00" y1="296.50" x2="990.30" y2="296.50" stroke="#141414" stroke-width="1.0"/>
<line x1="980.50" y1="245.30" x2="980.50" y2="296.20" stroke="#141414" stroke-width="0.5"/>
<circle cx="987.50" cy="251.80" r="1.90" fill="none" stroke="#141414" stroke-width="0.7"/>
<line x1="984.00" y1="251.50" x2="990.30" y2="251.50" stroke="#141414" stroke-width="0.5"/>
<line x1="987.50" y1="248.80" x2="987.50" y2="254.80" stroke="#141414" stroke-width="0.5"/>
<circle cx="987.50" cy="288.50" r="1.90" fill="none" stroke="#141414" stroke-width="0.7"/>
<line x1="984.00" y1="288.50" x2="990.30" y2="288.50" stroke="#141414" stroke-width="0.5"/>
<line x1="987.50" y1="285.50" x2="987.50" y2="291.50" stroke="#141414" stroke-width="0.5"/>
<rect x="990.50" y="239.50" width="6.00" height="60.00" rx="0" fill="none" stroke="#141414" stroke-width="0.9"/>
<rect x="996.50" y="239.50" width="4.00" height="60.00" rx="0" fill="none" stroke="#141414" stroke-width="0.9"/>
<path d="M1000.20 239.50 L1002.50 239.50 L1011.50 230.30" fill="none" stroke="#141414" stroke-width="0.9" stroke-linejoin="round"/>
<path d="M1000.20 299.50 L1002.50 299.50 L1011.50 309.60" fill="none" stroke="#141414" stroke-width="0.9" stroke-linejoin="round"/>
<line x1="1002.50" y1="239.70" x2="1002.50" y2="299.80" stroke="#141414" stroke-width="0.7"/>
<rect x="1011.50" y="221.50" width="16.00" height="96.00" rx="0" fill="none" stroke="#141414" stroke-width="1.0"/>
<line x1="1022.50" y1="221.90" x2="1022.50" y2="317.90" stroke="#141414" stroke-width="0.8"/>
<line x1="1020.00" y1="229.50" x2="1024.40" y2="229.50" stroke="#141414" stroke-width="0.8"/>
<line x1="1020.00" y1="310.50" x2="1024.40" y2="310.50" stroke="#141414" stroke-width="0.8"/>
<path d="M1027.90 235.50 L1040.80 235.50 L1054.40 226.50 L1172.50 226.50" fill="none" stroke="#141414" stroke-width="0.9" stroke-linejoin="round"/>
<path d="M1027.90 304.50 L1040.80 304.50 L1054.40 313.50 L1172.50 313.50" fill="none" stroke="#141414" stroke-width="0.9" stroke-linejoin="round"/>
<line x1="1040.50" y1="235.80" x2="1040.50" y2="304.30" stroke="#141414" stroke-width="0.8"/>
<line x1="1054.50" y1="226.10" x2="1054.50" y2="313.90" stroke="#141414" stroke-width="0.9"/>
<line x1="1172.50" y1="226.10" x2="1172.50" y2="313.90" stroke="#141414" stroke-width="0.9"/>
<path d="M1172.50 226.50 L1187.70 226.50 L1195.50 235.90 L1195.50 303.70 L1187.70 313.50 L1172.50 313.50" fill="none" stroke="#141414" stroke-width="0.9" stroke-linejoin="round"/>
<line x1="1187.50" y1="226.10" x2="1187.50" y2="313.90" stroke="#141414" stroke-width="0.8"/>
<rect x="1056.50" y="239.50" width="114.00" height="3.00" rx="1.5" fill="none" stroke="#141414" stroke-width="0.8"/>
<rect x="1056.50" y="251.50" width="114.00" height="3.00" rx="1.5" fill="none" stroke="#141414" stroke-width="0.8"/>
<rect x="1056.50" y="262.50" width="114.00" height="3.00" rx="1.5" fill="none" stroke="#141414" stroke-width="0.8"/>
<rect x="1056.50" y="274.50" width="114.00" height="3.00" rx="1.5" fill="none" stroke="#141414" stroke-width="0.8"/>
<rect x="1056.50" y="286.50" width="114.00" height="3.00" rx="1.5" fill="none" stroke="#141414" stroke-width="0.8"/>
<rect x="1056.50" y="297.50" width="114.00" height="3.00" rx="1.5" fill="none" stroke="#141414" stroke-width="0.8"/>
<rect x="1084.50" y="244.50" width="36.00" height="29.00" rx="0" fill="#fff" stroke="#141414" stroke-width="1.0"/>
<path d="M1090.00 247.50 L1114.60 247.50 L1118.50 250.60 L1118.50 267.90 L1114.60 271.50 L1090.00 271.50 L1086.50 267.90 L1086.50 250.60 Z" fill="none" stroke="#141414" stroke-width="1.0" stroke-linejoin="round"/>
<circle cx="1087.20" cy="247.80" r="0.50" fill="#141414" stroke="#141414" stroke-width="0.4"/>
<circle cx="1117.40" cy="247.80" r="0.50" fill="#141414" stroke="#141414" stroke-width="0.4"/>
<circle cx="1087.20" cy="270.70" r="0.50" fill="#141414" stroke="#141414" stroke-width="0.4"/>
<circle cx="1117.40" cy="270.70" r="0.50" fill="#141414" stroke="#141414" stroke-width="0.4"/>
<line x1="955.00" y1="270.50" x2="1202.80" y2="270.50" stroke="#141414" stroke-width="0.9"/>
<line x1="977.50" y1="238.00" x2="977.50" y2="320.00" stroke="#141414" stroke-width="1.2"/>
<line x1="647.50" y1="64.70" x2="647.50" y2="226.00" stroke="#141414" stroke-width="0.9"/>
<line x1="930.50" y1="64.70" x2="930.50" y2="92.00" stroke="#141414" stroke-width="0.9"/>
<line x1="647.10" y1="69.50" x2="930.40" y2="69.50" stroke="#141414" stroke-width="0.9"/>
<path d="M647.10 69.10 L652.50 68.10 L652.50 70.10 Z" fill="none" stroke="#141414" stroke-width="0.6" stroke-linejoin="round"/>
<path d="M688.00 69.10 L693.50 68.10 L693.50 70.10 Z" fill="none" stroke="#141414" stroke-width="0.6" stroke-linejoin="round"/>
<path d="M809.10 69.10 L814.50 68.10 L814.50 70.10 Z" fill="none" stroke="#141414" stroke-width="0.6" stroke-linejoin="round"/>
<path d="M688.00 69.10 L682.50 70.10 L682.50 68.10 Z" fill="none" stroke="#141414" stroke-width="0.6" stroke-linejoin="round"/>
<path d="M809.10 69.10 L803.50 70.10 L803.50 68.10 Z" fill="none" stroke="#141414" stroke-width="0.6" stroke-linejoin="round"/>
<path d="M930.40 69.10 L924.50 70.10 L924.50 68.10 Z" fill="none" stroke="#141414" stroke-width="0.6" stroke-linejoin="round"/>
<line x1="809.50" y1="64.70" x2="809.50" y2="73.50" stroke="#141414" stroke-width="0.9"/>
<text x="658.60" y="65.60" font-size="18.5" font-family='"Liberation Serif", serif' fill="#2a2a2a" text-anchor="start" textLength="20.40" lengthAdjust="spacingAndGlyphs">150</text>
<text x="739.30" y="65.80" font-size="18.5" font-family='"Liberation Serif", serif' fill="#2a2a2a" text-anchor="start" textLength="21.40" lengthAdjust="spacingAndGlyphs">443</text>
<text x="860.00" y="66.00" font-size="18.5" font-family='"Liberation Serif", serif' fill="#2a2a2a" text-anchor="start" textLength="21.60" lengthAdjust="spacingAndGlyphs">443</text>
<line x1="561.40" y1="219.50" x2="642.00" y2="219.50" stroke="#141414" stroke-width="0.9"/>
<line x1="579.80" y1="226.50" x2="656.00" y2="226.50" stroke="#141414" stroke-width="0.9"/>
<line x1="579.80" y1="335.50" x2="650.00" y2="335.50" stroke="#141414" stroke-width="0.9"/>
<line x1="561.40" y1="342.50" x2="640.00" y2="342.50" stroke="#141414" stroke-width="0.9"/>
<line x1="584.50" y1="179.70" x2="584.50" y2="335.60" stroke="#141414" stroke-width="0.9"/>
<path d="M584.90 219.20 L583.90 213.50 L585.90 213.50 Z" fill="none" stroke="#141414" stroke-width="0.6" stroke-linejoin="round"/>
<path d="M584.90 226.90 L585.90 232.50 L583.90 232.50 Z" fill="none" stroke="#141414" stroke-width="0.6" stroke-linejoin="round"/>
<path d="M584.90 335.60 L583.90 330.50 L585.90 330.50 Z" fill="none" stroke="#141414" stroke-width="0.6" stroke-linejoin="round"/>
<line x1="565.50" y1="219.20" x2="565.50" y2="342.40" stroke="#141414" stroke-width="0.9"/>
<path d="M565.10 219.20 L566.10 224.50 L564.10 224.50 Z" fill="none" stroke="#141414" stroke-width="0.6" stroke-linejoin="round"/>
<path d="M565.10 342.40 L564.10 336.50 L566.10 336.50 Z" fill="none" stroke="#141414" stroke-width="0.6" stroke-linejoin="round"/>
<text x="589.00" y="272.10" font-size="18.5" font-family='"Liberation Serif", serif' fill="#2a2a2a" text-anchor="start" textLength="21.20" lengthAdjust="spacingAndGlyphs" transform="rotate(90 589.00 272.10)">395</text>
<text x="568.60" y="272.10" font-size="18.5" font-family='"Liberation Serif", serif' fill="#2a2a2a" text-anchor="start" textLength="21.20" lengthAdjust="spacingAndGlyphs" transform="rotate(90 568.60 272.10)">450</text>
<text x="588.60" y="182.50" font-size="18.5" font-family='"Liberation Serif", serif' fill="#2a2a2a" text-anchor="start" textLength="25.40" lengthAdjust="spacingAndGlyphs" transform="rotate(90 588.60 182.50)">27.5</text>
<text x="621.00" y="165.80" font-size="18.5" font-family='"Liberation Serif", serif' fill="#444" text-anchor="start" textLength="36.60" lengthAdjust="spacingAndGlyphs" transform="rotate(90 621.00 165.80)">8-<tspan font-style="italic">Φ</tspan>22</text>
<path d="M617.50 165.50 L617.50 202.30 L647.00 226.00" fill="none" stroke="#141414" stroke-width="0.9" stroke-linejoin="round"/>
<path d="M647.30 226.30 L642.38 223.62 L643.64 222.06 Z" fill="none" stroke="#141414" stroke-width="0.6" stroke-linejoin="round"/>
<line x1="641.00" y1="232.50" x2="655.00" y2="221.50" stroke="#141414" stroke-width="0.5"/>
<line x1="640.00" y1="221.00" x2="656.00" y2="233.50" stroke="#141414" stroke-width="0.5"/>
<line x1="639.50" y1="226.00" x2="639.50" y2="408.80" stroke="#141414" stroke-width="0.9"/>
<line x1="646.50" y1="328.30" x2="646.50" y2="384.70" stroke="#141414" stroke-width="0.9"/>
<line x1="648.50" y1="328.30" x2="648.50" y2="384.70" stroke="#141414" stroke-width="0.9"/>
<line x1="768.50" y1="328.00" x2="768.50" y2="384.70" stroke="#141414" stroke-width="0.9"/>
<line x1="770.50" y1="328.00" x2="770.50" y2="384.70" stroke="#141414" stroke-width="0.9"/>
<line x1="849.50" y1="328.00" x2="849.50" y2="384.70" stroke="#141414" stroke-width="1.0"/>
<line x1="971.50" y1="328.00" x2="971.50" y2="384.70" stroke="#141414" stroke-width="0.9"/>
<line x1="977.50" y1="320.00" x2="977.50" y2="409.40" stroke="#141414" stroke-width="0.9"/>
<line x1="609.40" y1="380.50" x2="972.40" y2="380.50" stroke="#141414" stroke-width="0.9"/>
<path d="M639.90 380.50 L634.50 381.50 L634.50 379.50 Z" fill="none" stroke="#141414" stroke-width="0.6" stroke-linejoin="round"/>
<path d="M647.30 380.50 L652.50 379.50 L652.50 381.50 Z" fill="none" stroke="#141414" stroke-width="0.6" stroke-linejoin="round"/>
<path d="M769.20 380.50 L763.50 381.50 L763.50 379.50 Z" fill="none" stroke="#141414" stroke-width="0.6" stroke-linejoin="round"/>
<path d="M769.20 380.50 L774.50 379.50 L774.50 381.50 Z" fill="none" stroke="#141414" stroke-width="0.6" stroke-linejoin="round"/>
<path d="M849.60 380.50 L844.50 381.50 L844.50 379.50 Z" fill="none" stroke="#141414" stroke-width="0.6" stroke-linejoin="round"/>
<path d="M849.60 380.50 L855.50 379.50 L855.50 381.50 Z" fill="none" stroke="#141414" stroke-width="0.6" stroke-linejoin="round"/>
<path d="M971.00 380.50 L965.50 381.50 L965.50 379.50 Z" fill="none" stroke="#141414" stroke-width="0.6" stroke-linejoin="round"/>
<path d="M640.20 404.60 L646.50 403.40 L646.50 405.80 Z" fill="none" stroke="#141414" stroke-width="0.6" stroke-linejoin="round"/>
<line x1="638.00" y1="404.50" x2="641.00" y2="404.50" stroke="#141414" stroke-width="0.9"/>
<path d="M977.00 404.60 L970.50 405.80 L970.50 403.40 Z" fill="none" stroke="#141414" stroke-width="0.6" stroke-linejoin="round"/>
<line x1="976.00" y1="404.50" x2="979.00" y2="404.50" stroke="#141414" stroke-width="0.9"/>
<text x="613.10" y="376.80" font-size="18.5" font-family='"Liberation Serif", serif' fill="#2a2a2a" text-anchor="start" textLength="14.10" lengthAdjust="spacingAndGlyphs">25</text>
<text x="698.60" y="376.90" font-size="18.5" font-family='"Liberation Serif", serif' fill="#2a2a2a" text-anchor="start" textLength="21.20" lengthAdjust="spacingAndGlyphs">443</text>
<text x="800.00" y="377.00" font-size="18.5" font-family='"Liberation Serif", serif' fill="#2a2a2a" text-anchor="start" textLength="21.80" lengthAdjust="spacingAndGlyphs">300</text>
<text x="900.50" y="377.10" font-size="18.5" font-family='"Liberation Serif", serif' fill="#2a2a2a" text-anchor="start" textLength="23.00" lengthAdjust="spacingAndGlyphs">443</text>
<text x="797.20" y="401.00" font-size="18.5" font-family='"Liberation Serif", serif' fill="#2a2a2a" text-anchor="start" textLength="27.40" lengthAdjust="spacingAndGlyphs">1236</text>
</svg></body></html>
